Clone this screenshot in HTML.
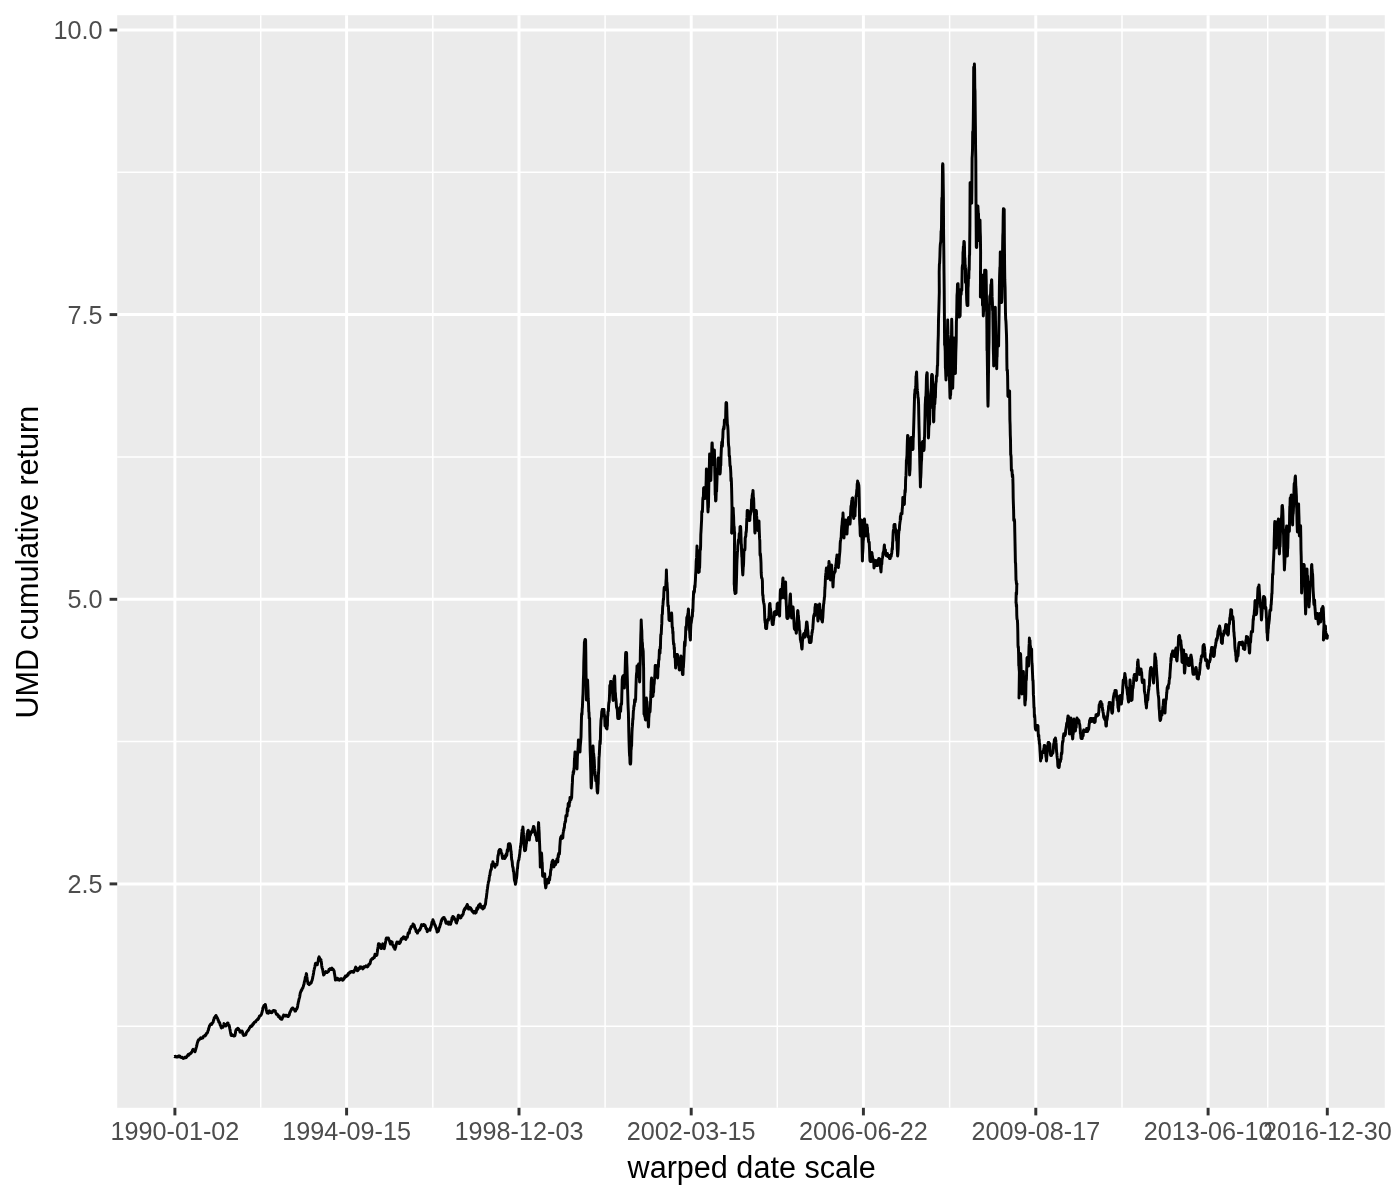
<!DOCTYPE html>
<html><head><meta charset="utf-8"><title>UMD cumulative return</title>
<style>
html,body{margin:0;padding:0;background:#fff;}
body{width:1400px;height:1200px;overflow:hidden;}
svg{display:block;filter:grayscale(1);}
text{font-family:"Liberation Sans",sans-serif;font-kerning:none;}
.tk{font-size:25.2px;fill:#4d4d4d;}
.tt{font-size:30.6px;fill:#000;}
</style></head><body>
<svg width="1400" height="1200" viewBox="0 0 1400 1200">
<rect x="0" y="0" width="1400" height="1200" fill="#ffffff"/>
<rect x="117.2" y="15.2" width="1267.6" height="1092.6" fill="#ebebeb"/>
<g stroke="#ffffff" stroke-width="1.48" fill="none">
<line x1="117.2" x2="1384.8" y1="172.3" y2="172.3"/>
<line x1="117.2" x2="1384.8" y1="457.0" y2="457.0"/>
<line x1="117.2" x2="1384.8" y1="741.6" y2="741.6"/>
<line x1="117.2" x2="1384.8" y1="1026.2" y2="1026.2"/>
<line x1="260.7" x2="260.7" y1="15.2" y2="1107.8"/>
<line x1="432.8" x2="432.8" y1="15.2" y2="1107.8"/>
<line x1="605.1" x2="605.1" y1="15.2" y2="1107.8"/>
<line x1="777.3" x2="777.3" y1="15.2" y2="1107.8"/>
<line x1="949.6" x2="949.6" y1="15.2" y2="1107.8"/>
<line x1="1122.0" x2="1122.0" y1="15.2" y2="1107.8"/>
<line x1="1267.7" x2="1267.7" y1="15.2" y2="1107.8"/>
</g>
<g stroke="#ffffff" stroke-width="2.96" fill="none">
<line x1="117.2" x2="1384.8" y1="30.0" y2="30.0"/>
<line x1="117.2" x2="1384.8" y1="314.6" y2="314.6"/>
<line x1="117.2" x2="1384.8" y1="599.3" y2="599.3"/>
<line x1="117.2" x2="1384.8" y1="883.9" y2="883.9"/>
<line x1="174.9" x2="174.9" y1="15.2" y2="1107.8"/>
<line x1="346.6" x2="346.6" y1="15.2" y2="1107.8"/>
<line x1="519.0" x2="519.0" y1="15.2" y2="1107.8"/>
<line x1="691.2" x2="691.2" y1="15.2" y2="1107.8"/>
<line x1="863.4" x2="863.4" y1="15.2" y2="1107.8"/>
<line x1="1035.8" x2="1035.8" y1="15.2" y2="1107.8"/>
<line x1="1208.1" x2="1208.1" y1="15.2" y2="1107.8"/>
<line x1="1327.3" x2="1327.3" y1="15.2" y2="1107.8"/>
</g>
<polyline fill="none" stroke="#000000" stroke-width="2.96" stroke-linejoin="round" stroke-linecap="butt" points="174.3,1056.6 174.5,1056.5 174.7,1056.7 174.9,1056.6 175.1,1056.6 175.3,1056.3 175.5,1056.3 175.7,1056.6 175.9,1056.7 176.1,1057.0 176.3,1057.0 176.5,1057.1 176.7,1057.1 176.9,1056.8 177.2,1057.0 177.4,1057.1 177.6,1057.1 177.8,1056.8 178.0,1056.4 178.2,1056.2 178.4,1056.1 178.6,1056.1 178.8,1056.1 179.0,1056.3 179.2,1056.1 179.4,1056.2 179.6,1056.3 179.8,1056.1 180.0,1056.6 180.2,1056.8 180.4,1057.3 180.6,1057.2 180.8,1057.1 181.0,1057.1 181.2,1057.2 181.4,1057.5 181.6,1057.6 181.8,1057.6 182.0,1057.5 182.2,1057.4 182.3,1057.8 182.5,1057.7 182.7,1057.9 182.9,1058.1 183.1,1057.8 183.3,1057.9 183.5,1058.4 183.7,1057.9 183.9,1057.9 184.1,1058.0 184.3,1057.9 184.5,1057.9 184.7,1057.8 184.9,1057.2 185.1,1057.3 185.3,1057.4 185.5,1057.5 185.7,1057.7 185.9,1057.7 186.1,1057.6 186.3,1057.1 186.5,1057.2 186.7,1056.9 186.9,1056.6 187.1,1056.1 187.3,1055.7 187.5,1055.5 187.7,1055.7 187.9,1055.0 188.1,1054.6 188.3,1054.7 188.5,1055.1 188.7,1055.3 188.9,1054.8 189.2,1054.1 189.4,1054.2 189.6,1054.0 189.8,1053.7 190.0,1054.0 190.2,1053.9 190.4,1053.6 190.6,1053.3 190.8,1053.0 191.0,1053.1 191.2,1052.9 191.4,1052.7 191.5,1052.5 191.7,1051.7 191.9,1051.6 192.1,1051.5 192.3,1051.3 192.5,1050.4 192.7,1049.8 192.9,1049.7 193.1,1049.4 193.3,1049.5 193.5,1050.0 193.7,1049.8 193.9,1050.4 194.2,1050.7 194.4,1050.9 194.6,1051.1 194.8,1051.5 195.0,1051.7 195.2,1051.3 195.4,1050.4 195.6,1049.6 195.8,1049.1 196.0,1048.4 196.2,1047.5 196.4,1047.0 196.5,1046.7 196.7,1045.9 196.9,1044.8 197.1,1044.0 197.3,1043.2 197.5,1042.4 197.7,1042.1 197.9,1041.1 198.1,1041.2 198.3,1040.5 198.5,1039.9 198.7,1039.8 198.9,1039.8 199.1,1039.8 199.3,1039.6 199.5,1039.3 199.7,1039.1 199.9,1038.9 200.1,1038.6 200.3,1038.3 200.5,1038.2 200.7,1037.9 200.9,1038.0 201.1,1038.0 201.3,1038.4 201.5,1038.4 201.7,1038.1 201.9,1037.8 202.1,1037.7 202.3,1037.8 202.5,1037.6 202.7,1037.5 202.9,1037.9 203.1,1037.0 203.3,1036.4 203.5,1036.4 203.7,1036.3 203.9,1036.2 204.1,1036.0 204.3,1036.0 204.5,1035.9 204.7,1035.5 204.9,1036.1 205.1,1036.1 205.3,1035.7 205.5,1035.5 205.7,1035.2 205.9,1035.0 206.1,1034.0 206.3,1033.6 206.5,1033.8 206.7,1033.2 206.9,1033.0 207.1,1033.1 207.3,1032.9 207.5,1032.8 207.7,1031.8 207.9,1031.1 208.1,1030.5 208.3,1030.2 208.5,1030.0 208.6,1028.6 208.8,1028.5 209.0,1027.5 209.2,1027.2 209.4,1026.1 209.6,1025.7 209.8,1025.6 210.0,1025.0 210.2,1024.7 210.4,1024.7 210.6,1024.4 210.8,1024.0 211.1,1024.2 211.3,1024.2 211.5,1023.8 211.7,1024.4 211.9,1023.6 212.1,1023.6 212.3,1023.1 212.5,1022.8 212.7,1022.7 212.9,1022.4 213.1,1022.2 213.3,1021.3 213.5,1020.4 213.7,1020.2 213.9,1019.5 214.1,1018.7 214.2,1017.8 214.4,1017.9 214.6,1017.8 214.8,1017.9 215.0,1017.2 215.2,1016.8 215.4,1016.0 215.6,1015.9 215.8,1016.1 216.0,1015.4 216.2,1016.3 216.4,1017.0 216.6,1017.2 216.8,1016.8 217.0,1017.7 217.2,1018.0 217.4,1018.1 217.6,1018.5 217.8,1019.0 218.0,1019.9 218.2,1019.8 218.4,1020.5 218.6,1021.4 218.8,1022.1 219.0,1022.2 219.3,1022.1 219.5,1022.7 219.7,1022.9 219.9,1023.6 220.1,1024.8 220.3,1025.3 220.5,1025.2 220.6,1025.7 220.8,1025.7 221.0,1026.7 221.2,1027.5 221.4,1027.9 221.6,1027.5 221.8,1027.4 222.0,1027.1 222.2,1027.2 222.4,1026.8 222.6,1026.8 222.8,1026.9 223.0,1027.1 223.2,1026.5 223.4,1026.4 223.6,1025.4 223.8,1024.6 224.0,1023.6 224.2,1024.2 224.4,1024.1 224.6,1024.3 224.8,1024.5 225.1,1024.7 225.3,1024.8 225.5,1025.1 225.7,1026.0 225.9,1025.7 226.1,1025.6 226.3,1025.7 226.5,1025.3 226.7,1024.6 226.9,1024.1 227.1,1024.2 227.3,1023.3 227.5,1022.9 227.7,1022.9 227.9,1022.9 228.1,1023.4 228.3,1024.2 228.5,1024.8 228.7,1024.9 228.9,1024.9 229.1,1025.2 229.3,1026.0 229.5,1027.1 229.7,1028.1 229.9,1029.1 230.1,1029.9 230.3,1031.2 230.5,1032.1 230.7,1033.5 230.9,1034.0 231.1,1035.4 231.3,1035.4 231.5,1035.0 231.7,1035.4 231.9,1035.5 232.1,1035.0 232.3,1034.9 232.5,1035.2 232.7,1035.3 232.9,1035.7 233.1,1035.8 233.3,1035.8 233.5,1035.8 233.7,1036.0 233.9,1036.1 234.2,1036.1 234.4,1035.3 234.6,1035.4 234.8,1035.7 235.0,1035.4 235.2,1034.0 235.4,1033.4 235.6,1031.6 235.8,1030.5 236.0,1030.0 236.2,1029.4 236.4,1029.4 236.6,1029.7 236.8,1029.4 236.9,1029.3 237.1,1029.4 237.3,1028.8 237.5,1028.5 237.7,1028.3 237.9,1028.3 238.1,1028.6 238.3,1028.9 238.5,1028.9 238.7,1029.1 238.9,1029.7 239.2,1030.1 239.4,1030.1 239.6,1030.2 239.8,1031.4 240.0,1032.1 240.2,1032.2 240.4,1031.2 240.6,1031.3 240.8,1031.3 241.1,1031.7 241.3,1031.8 241.5,1031.6 241.7,1031.7 241.9,1030.9 242.1,1031.1 242.3,1031.7 242.5,1032.0 242.7,1032.9 242.8,1034.0 243.0,1034.0 243.2,1034.3 243.4,1034.9 243.6,1035.4 243.8,1035.1 244.0,1034.6 244.2,1035.1 244.4,1035.3 244.6,1034.7 244.8,1034.5 245.0,1034.5 245.2,1034.6 245.4,1035.0 245.6,1034.9 245.8,1034.4 246.0,1034.1 246.2,1033.1 246.4,1032.5 246.7,1032.2 246.9,1032.1 247.1,1031.5 247.3,1031.2 247.5,1031.0 247.7,1030.8 247.9,1030.7 248.1,1030.5 248.3,1030.1 248.5,1030.0 248.7,1029.7 248.9,1029.2 249.1,1028.7 249.3,1028.4 249.5,1028.0 249.7,1027.8 249.9,1027.5 250.1,1027.2 250.3,1026.9 250.5,1026.2 250.7,1026.0 250.9,1026.3 251.1,1026.5 251.3,1026.4 251.5,1026.5 251.7,1026.2 251.9,1025.5 252.1,1025.5 252.2,1025.2 252.4,1025.4 252.6,1025.0 252.8,1024.1 253.0,1023.7 253.2,1024.2 253.4,1024.1 253.6,1023.6 253.8,1023.0 254.0,1022.8 254.2,1022.6 254.4,1022.3 254.6,1022.4 254.8,1022.3 255.0,1021.9 255.2,1021.8 255.4,1022.0 255.5,1022.0 255.7,1022.0 255.9,1021.2 256.1,1020.8 256.3,1020.7 256.5,1020.2 256.7,1020.2 256.9,1020.0 257.1,1020.0 257.3,1019.4 257.5,1019.8 257.7,1019.7 257.9,1019.1 258.1,1018.6 258.3,1019.0 258.5,1018.3 258.7,1018.1 258.9,1017.9 259.1,1017.4 259.3,1016.4 259.5,1016.1 259.7,1015.9 259.9,1016.0 260.1,1015.9 260.4,1015.5 260.6,1015.5 260.8,1015.4 261.0,1015.1 261.2,1014.7 261.4,1014.3 261.6,1014.0 261.8,1013.0 262.0,1012.2 262.2,1011.7 262.4,1010.6 262.6,1009.8 262.8,1008.5 263.0,1007.7 263.2,1007.3 263.4,1007.0 263.6,1006.4 263.8,1006.1 264.0,1005.4 264.2,1005.9 264.4,1005.9 264.6,1006.2 264.8,1005.6 265.0,1005.4 265.2,1004.5 265.4,1004.6 265.6,1006.2 265.8,1006.7 266.0,1007.9 266.2,1009.3 266.3,1009.9 266.5,1010.4 266.7,1011.2 266.9,1012.2 267.1,1012.9 267.3,1012.7 267.5,1012.6 267.7,1012.6 267.9,1012.7 268.1,1013.0 268.3,1013.3 268.5,1012.6 268.7,1012.2 268.9,1011.6 269.1,1010.9 269.3,1010.7 269.5,1011.1 269.7,1011.7 269.9,1011.6 270.1,1011.5 270.3,1011.9 270.5,1012.3 270.7,1012.6 270.9,1012.6 271.1,1012.3 271.3,1012.6 271.5,1012.8 271.7,1012.8 271.9,1012.6 272.1,1012.5 272.3,1011.5 272.5,1011.2 272.7,1011.2 272.9,1010.7 273.1,1010.8 273.3,1011.0 273.5,1010.5 273.7,1010.5 273.9,1010.4 274.1,1010.6 274.4,1010.9 274.6,1011.0 274.8,1010.7 275.0,1010.7 275.2,1010.8 275.4,1011.1 275.6,1012.1 275.8,1012.7 276.0,1013.0 276.2,1013.7 276.4,1014.3 276.6,1014.0 276.8,1014.1 277.0,1014.0 277.2,1014.2 277.4,1014.5 277.6,1014.5 277.8,1015.5 277.9,1015.5 278.1,1016.0 278.3,1016.2 278.5,1016.7 278.7,1016.0 278.9,1015.8 279.1,1016.1 279.3,1016.4 279.5,1017.3 279.7,1017.4 279.9,1017.9 280.1,1018.2 280.3,1018.6 280.5,1018.8 280.7,1018.8 280.9,1019.0 281.1,1018.7 281.3,1019.1 281.5,1018.8 281.7,1018.9 281.9,1019.2 282.1,1018.6 282.3,1018.1 282.5,1018.0 282.6,1017.5 282.8,1016.7 283.0,1016.3 283.2,1016.0 283.4,1015.8 283.6,1015.0 283.8,1015.6 284.0,1015.9 284.2,1015.9 284.4,1015.9 284.6,1015.8 284.9,1015.9 285.1,1015.8 285.3,1015.9 285.5,1015.7 285.7,1015.4 285.9,1015.5 286.1,1015.9 286.3,1015.8 286.5,1015.4 286.7,1015.5 286.9,1015.4 287.1,1015.4 287.2,1015.8 287.4,1016.1 287.6,1015.8 287.8,1016.5 288.0,1016.4 288.2,1016.5 288.4,1016.1 288.6,1016.0 288.8,1014.9 289.0,1015.1 289.2,1015.2 289.4,1014.3 289.6,1013.3 289.9,1012.3 290.1,1012.3 290.3,1011.7 290.5,1011.2 290.7,1010.7 290.9,1010.5 291.1,1009.9 291.3,1009.7 291.5,1009.0 291.6,1008.8 291.8,1008.8 292.0,1008.8 292.2,1008.5 292.4,1008.0 292.6,1007.9 292.8,1007.9 293.0,1008.7 293.2,1009.1 293.4,1009.3 293.6,1009.3 293.8,1009.2 294.0,1009.0 294.2,1009.1 294.4,1009.3 294.6,1009.7 294.8,1010.1 295.0,1011.1 295.2,1010.5 295.4,1010.3 295.6,1011.0 295.8,1010.0 296.1,1009.6 296.3,1009.3 296.5,1009.1 296.7,1009.0 296.9,1008.6 297.1,1008.1 297.3,1007.4 297.5,1007.1 297.7,1005.7 297.8,1004.6 298.0,1004.0 298.2,1002.9 298.4,1001.8 298.6,1001.4 298.8,1000.1 299.0,999.3 299.2,998.5 299.5,997.6 299.7,996.7 299.9,995.6 300.1,994.0 300.3,992.9 300.5,992.6 300.7,991.8 300.9,991.3 301.1,991.1 301.3,990.2 301.5,990.0 301.7,990.3 301.9,989.5 302.0,989.1 302.2,988.5 302.4,988.6 302.6,988.3 302.8,988.1 303.0,987.3 303.2,986.8 303.4,986.3 303.6,985.0 303.8,984.8 304.0,984.3 304.2,982.6 304.4,982.0 304.6,981.1 304.8,980.4 305.0,979.7 305.2,978.1 305.4,977.1 305.6,977.3 305.8,976.6 306.0,975.7 306.2,974.6 306.4,973.6 306.6,974.7 306.8,976.4 307.0,977.6 307.1,978.6 307.3,980.6 307.5,981.3 307.7,981.9 307.9,983.1 308.1,983.7 308.3,983.7 308.5,983.5 308.7,984.0 308.9,984.5 309.1,984.3 309.3,984.6 309.5,984.0 309.7,983.9 309.9,983.6 310.1,983.2 310.4,982.7 310.6,982.9 310.8,983.2 311.0,982.7 311.2,982.8 311.4,982.1 311.6,981.3 311.8,980.9 312.0,980.8 312.2,979.8 312.4,979.0 312.6,978.2 312.8,976.8 313.0,976.0 313.2,974.9 313.4,974.2 313.6,972.9 313.8,971.1 314.0,970.3 314.2,969.5 314.4,968.4 314.6,968.0 314.8,967.0 315.0,965.8 315.2,965.2 315.4,963.6 315.6,963.3 315.8,963.3 316.0,963.8 316.2,963.7 316.3,963.9 316.5,963.6 316.7,963.8 316.9,964.6 317.1,964.3 317.3,964.7 317.5,963.5 317.7,962.7 317.9,962.0 318.1,961.7 318.3,960.2 318.5,958.4 318.7,957.8 318.9,957.4 319.1,956.9 319.3,957.4 319.5,957.7 319.7,958.1 319.9,958.8 320.1,959.3 320.3,960.3 320.5,959.9 320.7,960.0 320.9,959.5 321.1,961.0 321.3,961.9 321.5,963.5 321.7,965.7 321.9,966.9 322.1,967.9 322.3,968.6 322.5,969.1 322.7,969.7 322.9,970.9 323.0,971.9 323.2,972.8 323.4,973.7 323.6,975.0 323.8,974.8 324.0,974.4 324.2,974.3 324.4,973.9 324.6,972.9 324.9,973.2 325.1,973.0 325.3,972.2 325.5,972.3 325.7,972.1 325.9,971.6 326.1,972.2 326.3,972.3 326.5,972.6 326.7,972.6 326.9,972.6 327.1,972.1 327.3,972.3 327.5,972.1 327.7,971.7 327.9,971.7 328.1,971.5 328.3,971.6 328.5,971.1 328.7,970.9 328.9,969.6 329.1,969.2 329.3,969.3 329.5,969.6 329.7,969.2 329.9,968.8 330.1,969.3 330.3,968.8 330.5,968.9 330.7,969.4 330.9,969.1 331.1,969.4 331.3,968.8 331.5,968.6 331.7,968.3 331.9,968.1 332.1,968.3 332.3,969.6 332.5,969.5 332.7,969.3 332.9,969.7 333.2,969.4 333.4,969.8 333.6,970.2 333.8,970.3 334.0,970.7 334.2,971.5 334.4,973.4 334.6,974.2 334.8,975.4 335.0,976.7 335.2,978.1 335.4,980.0 335.6,979.7 335.8,979.2 336.0,979.2 336.2,979.6 336.4,979.3 336.6,979.1 336.9,979.4 337.1,979.2 337.3,978.3 337.5,979.1 337.7,979.8 337.9,978.6 338.1,978.7 338.3,979.0 338.5,979.6 338.7,980.0 338.9,980.0 339.0,979.6 339.2,979.8 339.4,980.2 339.6,980.0 339.8,979.6 340.0,979.7 340.2,978.9 340.4,978.9 340.6,978.8 340.8,979.2 341.0,979.0 341.2,978.8 341.4,978.8 341.6,978.8 341.7,978.8 341.9,978.8 342.1,979.1 342.3,979.7 342.5,980.2 342.7,980.2 342.9,980.2 343.1,979.3 343.3,979.8 343.5,979.4 343.7,979.1 343.9,979.1 344.1,978.3 344.3,978.3 344.5,978.0 344.8,976.9 345.0,976.8 345.2,977.2 345.4,976.1 345.6,976.2 345.8,976.1 346.0,976.1 346.2,976.0 346.4,976.4 346.6,976.0 346.8,976.1 347.0,975.6 347.2,975.7 347.4,975.0 347.6,974.6 347.8,975.2 348.0,975.1 348.2,974.7 348.4,973.9 348.5,973.2 348.7,973.0 348.9,973.1 349.1,973.0 349.3,973.0 349.5,972.7 349.7,973.0 349.9,972.5 350.1,972.0 350.3,972.1 350.5,972.1 350.7,972.0 350.9,971.7 351.1,971.6 351.3,971.9 351.5,972.0 351.7,971.6 351.9,971.6 352.0,971.7 352.2,971.6 352.4,971.6 352.6,971.6 352.8,971.6 353.0,971.6 353.2,972.2 353.4,971.9 353.6,972.1 353.8,971.1 354.0,971.6 354.2,970.8 354.4,970.7 354.6,969.8 354.9,969.6 355.1,970.1 355.3,968.3 355.5,967.5 355.7,967.1 355.9,967.5 356.1,967.6 356.3,969.1 356.5,969.6 356.8,969.2 357.0,970.1 357.2,969.7 357.4,970.7 357.6,970.2 357.8,970.1 358.0,970.4 358.2,970.3 358.4,969.4 358.6,968.4 358.8,968.7 359.0,968.8 359.1,968.2 359.3,968.4 359.5,968.4 359.7,968.5 359.9,967.2 360.1,966.9 360.3,967.1 360.5,967.2 360.7,967.4 360.9,966.9 361.1,966.9 361.3,966.9 361.5,968.1 361.7,967.8 361.9,967.7 362.1,967.8 362.3,968.4 362.5,968.2 362.7,968.9 362.9,968.6 363.1,968.6 363.3,968.2 363.5,968.1 363.7,967.6 363.9,966.7 364.1,967.1 364.3,967.1 364.5,966.7 364.7,966.7 364.9,967.0 365.1,966.4 365.3,966.2 365.5,966.3 365.7,966.4 365.9,966.4 366.1,965.9 366.3,966.3 366.5,966.6 366.7,966.8 366.9,966.8 367.1,966.9 367.3,966.9 367.5,966.7 367.7,966.5 367.9,966.4 368.1,965.9 368.3,965.2 368.5,965.3 368.7,964.5 368.9,964.6 369.0,963.9 369.2,963.9 369.4,964.4 369.6,964.3 369.8,963.8 370.0,963.6 370.2,963.2 370.4,961.9 370.6,961.1 370.8,960.7 371.0,960.0 371.1,959.6 371.3,959.5 371.5,959.4 371.7,959.4 371.9,959.2 372.1,958.6 372.3,958.7 372.5,958.8 372.7,958.8 372.9,958.8 373.0,958.1 373.2,958.1 373.4,958.2 373.6,957.9 373.8,957.5 374.0,957.4 374.2,957.0 374.4,957.7 374.6,956.0 374.8,955.6 375.0,954.3 375.2,954.8 375.4,955.5 375.6,955.0 375.8,955.1 376.1,955.4 376.3,955.3 376.5,955.5 376.7,954.5 376.9,955.0 377.1,953.8 377.3,952.4 377.5,950.7 377.7,949.6 377.9,948.0 378.1,946.7 378.3,945.0 378.5,943.8 378.7,943.8 378.9,944.0 379.1,944.4 379.3,943.9 379.5,943.9 379.7,944.3 379.9,944.8 380.1,945.8 380.3,947.3 380.5,947.2 380.7,946.5 380.9,947.4 381.1,948.6 381.3,948.6 381.5,948.6 381.7,947.8 381.9,946.9 382.1,946.9 382.3,945.9 382.5,944.5 382.7,943.8 382.9,944.3 383.1,945.8 383.3,946.0 383.5,946.1 383.7,946.8 383.9,946.9 384.1,948.1 384.3,948.6 384.5,946.9 384.7,946.5 384.9,945.1 385.1,944.1 385.4,943.0 385.6,941.7 385.8,940.8 386.0,939.3 386.2,938.6 386.4,938.1 386.6,938.1 386.8,938.1 387.0,938.1 387.2,938.1 387.4,938.5 387.6,938.9 387.8,938.7 388.0,938.7 388.2,938.1 388.4,938.1 388.6,938.6 388.8,939.3 389.0,939.7 389.2,940.0 389.5,941.0 389.7,941.4 389.9,942.3 390.1,943.0 390.3,943.6 390.5,944.0 390.7,943.3 390.9,942.8 391.1,942.1 391.3,941.6 391.5,941.8 391.7,942.4 391.9,942.1 392.1,942.1 392.3,943.2 392.5,944.1 392.7,945.2 392.9,945.0 393.1,945.1 393.3,945.8 393.6,947.0 393.8,947.5 394.0,947.5 394.2,947.8 394.4,947.9 394.6,947.9 394.8,949.2 395.0,949.3 395.2,948.1 395.4,948.0 395.6,947.5 395.8,946.4 396.1,944.9 396.3,943.9 396.5,943.5 396.7,942.6 396.9,942.1 397.1,942.2 397.3,942.4 397.5,942.3 397.7,942.6 397.9,943.3 398.1,942.5 398.3,942.4 398.5,942.6 398.7,942.3 398.9,942.1 399.1,942.5 399.3,943.6 399.5,943.5 399.7,943.3 399.9,942.1 400.1,942.7 400.3,942.4 400.5,941.9 400.7,940.9 400.9,940.5 401.1,939.5 401.3,939.1 401.5,939.0 401.7,938.6 401.9,938.8 402.1,938.4 402.3,939.1 402.5,938.9 402.7,938.0 402.9,938.0 403.1,937.6 403.3,937.1 403.5,936.9 403.7,937.2 403.9,936.9 404.1,936.9 404.3,937.4 404.5,938.1 404.7,938.2 404.9,938.6 405.1,938.8 405.4,939.0 405.6,939.4 405.8,939.4 406.0,938.9 406.2,938.5 406.4,937.6 406.6,937.6 406.8,936.9 407.1,936.6 407.3,937.4 407.5,936.5 407.7,935.5 407.9,934.3 408.1,933.4 408.3,932.7 408.5,933.3 408.7,933.4 408.9,932.8 409.1,932.6 409.3,933.1 409.5,931.6 409.7,930.3 409.9,929.4 410.1,929.1 410.4,929.1 410.6,928.7 410.8,927.7 411.0,926.7 411.2,926.7 411.4,926.4 411.6,926.2 411.8,926.4 412.0,926.5 412.2,926.5 412.4,926.2 412.6,925.4 412.8,925.0 413.0,924.1 413.2,924.8 413.4,925.0 413.6,924.3 413.8,925.3 414.0,926.0 414.2,925.1 414.4,926.4 414.6,927.1 414.9,928.5 415.1,928.0 415.3,928.5 415.5,929.0 415.7,929.3 415.9,930.1 416.1,931.5 416.3,931.4 416.5,931.4 416.8,931.3 417.0,931.8 417.2,932.2 417.4,933.1 417.6,932.8 417.8,932.4 418.0,931.6 418.2,930.9 418.4,931.0 418.6,931.0 418.8,930.6 419.0,930.0 419.2,930.5 419.4,929.7 419.6,929.7 419.8,929.9 420.0,929.3 420.2,929.2 420.4,928.0 420.6,928.0 420.9,927.6 421.1,926.1 421.3,925.9 421.5,924.8 421.7,925.0 421.9,924.7 422.1,924.8 422.3,925.1 422.5,925.0 422.6,925.3 422.8,925.1 423.0,925.5 423.2,925.5 423.4,925.5 423.6,924.6 423.8,925.4 424.0,925.5 424.2,924.6 424.4,924.8 424.6,925.1 424.9,925.9 425.1,925.4 425.3,926.4 425.5,926.4 425.7,927.9 425.9,928.1 426.1,928.7 426.3,928.7 426.5,928.3 426.7,929.2 426.9,930.0 427.1,931.1 427.3,931.6 427.5,931.2 427.7,930.3 427.9,929.9 428.1,929.8 428.3,929.8 428.6,929.8 428.8,929.8 429.0,929.8 429.2,929.8 429.4,929.8 429.6,929.8 429.8,929.8 430.0,930.3 430.2,929.3 430.4,927.8 430.6,928.0 430.8,927.4 431.0,927.4 431.2,925.8 431.4,925.0 431.6,924.4 431.8,923.0 432.0,922.0 432.1,921.9 432.3,921.9 432.5,922.2 432.7,921.1 432.9,919.7 433.1,920.4 433.3,921.3 433.5,921.8 433.7,921.3 433.8,922.2 434.0,923.0 434.2,923.7 434.4,923.8 434.6,924.3 434.8,925.3 435.0,925.6 435.2,925.1 435.4,925.9 435.6,926.8 435.9,927.4 436.1,928.5 436.3,928.7 436.5,929.3 436.7,929.7 436.9,930.6 437.1,932.1 437.3,931.2 437.5,931.6 437.7,931.7 437.9,931.4 438.1,930.9 438.3,931.2 438.6,930.3 438.8,929.5 439.0,928.1 439.2,927.6 439.4,927.6 439.6,927.1 439.8,926.6 440.0,925.7 440.2,925.3 440.4,924.0 440.6,924.1 440.8,923.4 441.0,922.3 441.2,921.4 441.4,920.4 441.6,920.4 441.8,920.6 442.0,919.3 442.2,919.4 442.4,919.4 442.6,918.6 442.8,918.0 443.0,917.9 443.2,917.8 443.4,918.3 443.6,918.4 443.8,917.5 444.0,917.9 444.2,917.6 444.4,918.8 444.6,918.8 444.9,919.0 445.1,919.2 445.3,919.5 445.5,920.9 445.7,922.1 445.9,922.8 446.1,923.3 446.3,922.8 446.5,922.8 446.7,922.8 446.9,922.6 447.1,923.2 447.2,923.2 447.4,923.1 447.6,922.8 447.8,922.0 448.0,922.6 448.2,923.8 448.4,924.2 448.6,924.0 448.8,922.2 449.0,922.1 449.2,922.6 449.4,922.6 449.6,922.9 449.8,923.6 450.0,924.1 450.2,923.6 450.4,924.0 450.6,924.3 450.8,923.2 451.0,922.7 451.2,921.7 451.4,921.4 451.6,921.1 451.8,919.8 452.0,918.0 452.2,918.1 452.4,917.7 452.6,917.9 452.8,916.5 453.0,916.5 453.2,917.1 453.4,917.7 453.6,916.9 453.8,917.3 454.0,917.4 454.2,918.2 454.4,919.1 454.6,919.4 454.8,918.8 455.0,919.5 455.2,919.4 455.4,920.0 455.6,920.4 455.8,921.6 456.0,922.5 456.2,922.5 456.4,922.9 456.6,923.0 456.8,921.8 457.0,921.1 457.2,920.9 457.4,920.7 457.6,920.0 457.8,918.3 458.0,916.6 458.2,915.8 458.4,915.2 458.6,915.7 458.8,915.5 459.0,916.6 459.2,917.4 459.4,916.7 459.6,916.6 459.9,917.1 460.1,917.1 460.3,917.4 460.5,918.0 460.7,917.9 460.9,917.8 461.1,917.0 461.3,916.3 461.5,916.2 461.7,915.4 461.9,915.2 462.1,915.8 462.3,915.4 462.5,914.9 462.7,914.9 462.9,914.3 463.1,914.3 463.3,912.8 463.5,912.4 463.7,911.4 463.9,910.2 464.0,910.6 464.2,909.4 464.4,909.7 464.6,909.4 464.8,909.6 465.0,908.3 465.2,908.4 465.4,908.7 465.6,908.0 465.8,907.3 466.0,908.2 466.2,907.7 466.4,906.8 466.6,905.8 466.8,905.5 467.0,905.1 467.2,904.5 467.4,905.0 467.6,905.2 467.8,905.8 468.0,907.1 468.1,906.9 468.3,907.9 468.5,909.1 468.7,908.9 468.9,908.6 469.1,908.3 469.3,907.5 469.5,908.1 469.7,907.4 469.9,908.0 470.1,909.1 470.3,908.6 470.5,908.7 470.7,907.9 470.9,909.0 471.1,908.9 471.3,909.1 471.5,909.6 471.7,910.5 471.9,910.7 472.1,911.2 472.3,911.2 472.5,911.7 472.7,911.2 472.9,911.7 473.1,911.2 473.3,911.2 473.5,912.4 473.7,912.9 473.9,912.2 474.1,912.8 474.4,912.3 474.6,911.3 474.8,911.2 475.0,912.1 475.2,912.8 475.4,913.1 475.6,912.2 475.8,911.1 476.0,912.2 476.2,912.3 476.4,911.3 476.6,909.4 476.9,908.1 477.1,910.1 477.3,909.0 477.5,908.8 477.7,908.9 477.9,908.6 478.1,908.2 478.3,906.8 478.5,905.6 478.7,906.9 478.9,906.0 479.1,906.6 479.3,904.9 479.5,904.5 479.7,904.5 479.9,905.2 480.1,904.0 480.3,904.3 480.5,905.5 480.7,905.7 480.9,906.9 481.1,907.0 481.3,907.1 481.5,907.9 481.6,906.4 481.8,907.1 482.0,907.1 482.2,906.6 482.4,907.1 482.6,908.6 482.8,908.0 483.0,908.9 483.2,907.6 483.5,906.6 483.7,907.4 483.9,907.5 484.1,908.0 484.3,907.1 484.5,906.8 484.7,906.0 484.9,905.5 485.1,904.5 485.4,904.6 485.6,903.0 485.8,901.1 486.0,898.8 486.2,898.8 486.4,897.1 486.6,895.3 486.8,893.5 487.0,892.2 487.2,890.1 487.4,889.0 487.6,887.5 487.8,886.1 488.0,884.3 488.2,883.5 488.4,882.2 488.6,881.4 488.8,881.0 489.0,880.7 489.2,877.9 489.4,876.7 489.6,875.3 489.9,875.4 490.1,873.2 490.3,871.9 490.5,871.0 490.7,870.0 490.9,870.3 491.1,869.1 491.3,869.3 491.5,867.1 491.7,864.6 491.9,865.1 492.1,864.8 492.3,864.5 492.5,863.9 492.7,863.6 492.9,861.7 493.1,863.3 493.3,863.3 493.5,865.0 493.7,865.7 493.9,864.3 494.0,863.6 494.2,865.4 494.4,865.8 494.6,866.1 494.8,866.9 495.0,867.1 495.2,865.5 495.4,864.5 495.6,864.5 495.8,864.5 496.1,864.5 496.3,864.5 496.5,864.5 496.7,865.0 496.9,865.0 497.1,863.7 497.3,862.5 497.5,861.0 497.7,858.8 497.8,857.4 498.0,855.3 498.2,855.6 498.4,854.7 498.6,852.9 498.8,851.0 499.0,851.1 499.2,850.7 499.4,849.7 499.6,849.5 499.9,849.5 500.1,849.5 500.3,849.5 500.5,849.9 500.7,850.0 500.9,850.3 501.1,852.3 501.3,853.0 501.5,853.7 501.7,853.8 501.9,853.6 502.1,855.7 502.3,856.7 502.5,858.4 502.7,858.0 502.9,858.0 503.1,857.0 503.3,857.9 503.6,856.5 503.8,857.0 504.0,858.1 504.2,858.4 504.4,858.4 504.6,858.4 504.8,858.4 505.0,857.9 505.2,855.8 505.4,856.3 505.6,857.3 505.8,856.0 506.1,854.5 506.3,853.8 506.5,855.3 506.7,855.6 506.9,854.3 507.1,851.5 507.3,849.9 507.5,850.3 507.7,851.3 507.8,850.2 508.0,848.5 508.2,847.1 508.4,844.2 508.6,844.3 508.8,843.8 509.0,845.3 509.2,843.9 509.5,843.8 509.7,843.9 509.9,843.8 510.1,844.9 510.3,845.4 510.5,846.0 510.7,848.6 510.9,851.3 511.1,851.2 511.3,855.0 511.5,857.3 511.7,860.0 511.9,860.1 512.1,861.3 512.3,862.8 512.5,865.8 512.6,866.3 512.8,867.3 513.0,867.2 513.2,868.9 513.4,871.2 513.6,871.4 513.8,872.3 514.0,874.4 514.2,877.4 514.4,879.5 514.6,880.8 514.8,881.1 515.0,881.8 515.2,882.6 515.4,884.3 515.6,882.7 515.8,882.8 516.0,881.6 516.2,879.0 516.3,879.0 516.5,878.4 516.7,876.9 516.9,874.7 517.1,871.4 517.3,869.0 517.5,868.5 517.7,866.4 517.9,863.7 518.1,862.5 518.3,861.4 518.5,860.6 518.7,859.9 518.9,859.9 519.1,857.7 519.3,857.3 519.5,855.0 519.7,854.3 519.9,852.1 520.1,850.0 520.3,848.7 520.5,846.4 520.8,845.2 521.0,843.8 521.2,841.6 521.4,838.6 521.6,836.0 521.8,833.7 522.0,831.7 522.1,830.0 522.3,831.5 522.5,830.5 522.7,829.6 522.9,826.9 523.1,829.0 523.3,831.6 523.5,834.7 523.7,836.4 523.8,841.1 524.0,843.4 524.2,847.5 524.4,847.8 524.6,850.7 524.8,850.5 525.0,850.3 525.2,850.5 525.4,850.3 525.6,850.0 525.8,847.5 526.0,846.3 526.2,843.4 526.4,843.6 526.6,841.8 526.8,839.5 527.0,836.5 527.1,833.8 527.3,833.7 527.5,833.5 527.7,831.4 527.9,830.7 528.1,830.6 528.3,830.2 528.5,831.3 528.7,832.0 528.9,833.1 529.1,835.0 529.3,840.0 529.5,838.0 529.7,836.7 529.9,835.7 530.1,834.4 530.3,834.1 530.5,834.8 530.7,832.1 530.9,832.6 531.1,832.6 531.3,832.6 531.5,832.6 531.7,832.1 531.9,830.9 532.1,831.4 532.3,831.7 532.5,831.8 532.7,829.2 532.9,828.9 533.2,828.1 533.4,826.6 533.6,826.6 533.8,826.6 534.0,827.1 534.2,828.1 534.4,829.8 534.6,830.1 534.8,831.3 535.0,832.4 535.2,834.0 535.4,835.0 535.6,834.9 535.8,834.7 536.0,834.5 536.2,836.5 536.3,837.1 536.5,837.6 536.7,840.1 536.9,840.5 537.1,840.0 537.3,838.1 537.5,836.3 537.7,835.7 537.9,834.5 538.0,832.7 538.2,828.7 538.4,825.0 538.6,822.6 538.8,827.2 539.0,830.1 539.2,833.7 539.3,837.2 539.5,841.3 539.7,845.7 539.9,852.4 540.1,857.2 540.3,867.1 540.5,866.6 540.7,862.6 540.8,860.9 541.0,858.1 541.2,855.7 541.4,852.9 541.6,853.8 541.8,857.5 542.0,862.0 542.2,862.6 542.4,869.0 542.6,875.7 542.8,876.2 543.0,876.2 543.2,876.2 543.5,876.2 543.7,876.2 543.9,875.9 544.1,875.2 544.3,874.3 544.5,876.3 544.7,873.8 544.9,878.4 545.1,883.5 545.3,884.2 545.5,886.2 545.7,887.9 545.9,887.3 546.1,885.8 546.3,884.5 546.5,881.9 546.7,881.1 546.9,880.0 547.1,880.7 547.3,879.5 547.5,879.5 547.7,879.5 547.8,880.8 548.0,879.5 548.2,879.7 548.4,881.7 548.6,882.9 548.8,881.1 549.0,879.1 549.2,877.6 549.4,878.0 549.6,879.9 549.7,878.6 549.9,876.3 550.1,875.9 550.3,875.3 550.5,872.5 550.7,870.0 550.9,869.2 551.1,870.0 551.3,867.0 551.5,864.4 551.8,864.8 552.0,861.8 552.2,861.4 552.4,861.5 552.6,860.7 552.8,860.2 553.0,861.6 553.2,862.5 553.4,864.7 553.6,864.5 553.8,866.9 554.0,866.4 554.2,865.2 554.4,864.3 554.6,865.4 554.8,863.3 555.0,863.5 555.2,861.5 555.4,862.1 555.6,864.7 555.8,863.0 556.0,863.1 556.2,860.9 556.4,861.4 556.6,861.9 556.8,861.9 557.0,858.8 557.2,858.7 557.4,860.1 557.6,861.4 557.8,861.9 558.0,857.4 558.2,855.1 558.4,857.1 558.6,853.6 558.8,853.7 559.0,854.1 559.2,854.1 559.4,854.1 559.6,851.6 559.8,846.6 560.0,844.1 560.2,841.3 560.4,838.9 560.6,838.0 560.8,837.0 561.0,836.7 561.2,836.9 561.4,836.1 561.6,838.5 561.8,838.5 562.0,838.5 562.2,838.0 562.4,835.9 562.6,838.2 562.8,837.8 563.0,834.7 563.2,832.7 563.4,831.7 563.6,830.0 563.8,830.5 564.0,828.0 564.2,828.2 564.4,827.6 564.6,824.0 564.8,823.1 565.0,822.0 565.2,822.5 565.4,821.0 565.6,821.1 565.8,816.7 566.0,815.5 566.2,815.5 566.4,816.6 566.6,816.0 566.8,815.5 567.0,816.0 567.2,810.7 567.4,808.6 567.6,809.9 567.8,811.1 568.0,808.4 568.2,803.6 568.4,806.8 568.6,806.8 568.8,804.4 569.0,804.2 569.2,806.1 569.4,801.5 569.6,802.0 569.8,802.5 570.0,797.5 570.2,798.0 570.4,797.5 570.6,797.5 570.8,797.5 571.0,799.5 571.2,797.5 571.4,797.5 571.6,798.0 571.8,793.6 572.0,789.1 572.2,785.4 572.4,782.4 572.6,776.9 572.8,775.4 573.0,774.0 573.2,771.8 573.4,774.0 573.6,770.8 573.8,772.0 574.0,768.2 574.2,767.8 574.4,760.3 574.6,758.5 574.8,755.7 575.0,752.0 575.2,753.7 575.4,756.0 575.6,757.4 575.8,754.8 576.0,756.5 576.2,758.3 576.4,760.2 576.6,760.6 576.8,763.6 577.0,769.0 577.2,762.9 577.4,756.1 577.6,754.3 577.8,751.6 578.0,748.6 578.2,746.3 578.4,740.0 578.6,740.5 578.8,744.5 579.0,743.8 579.2,744.4 579.4,746.3 579.6,748.3 579.8,748.4 580.0,752.0 580.2,746.8 580.4,744.1 580.6,742.5 580.8,739.7 581.0,737.0 581.2,729.0 581.4,720.5 581.6,714.0 581.8,713.0 582.0,714.5 582.2,708.8 582.4,707.2 582.6,702.1 582.8,697.4 583.0,694.0 583.2,687.4 583.4,679.3 583.6,674.4 583.8,662.3 584.0,656.4 584.2,650.6 584.4,642.0 584.6,642.5 584.8,640.3 585.0,639.5 585.2,639.5 585.4,639.5 585.6,640.0 585.8,652.0 586.0,671.1 586.2,685.4 586.4,700.0 586.6,698.8 586.8,692.9 587.0,692.2 587.2,689.9 587.4,681.6 587.6,680.0 587.8,685.2 588.0,690.1 588.2,698.5 588.4,700.7 588.6,705.8 588.8,711.6 589.0,712.3 589.2,718.5 589.4,718.5 589.6,718.0 589.8,732.3 590.0,742.0 590.2,751.1 590.4,756.2 590.6,765.8 590.8,772.3 591.0,782.6 591.2,788.0 591.4,785.8 591.6,781.8 591.8,778.6 592.0,775.1 592.2,772.1 592.4,765.2 592.6,755.1 592.8,751.8 593.0,746.0 593.2,749.0 593.4,754.4 593.6,753.3 593.8,755.4 594.0,758.0 594.2,759.4 594.4,764.5 594.6,768.4 594.8,770.4 595.0,772.0 595.2,775.6 595.4,775.4 595.6,778.4 595.8,781.0 596.0,777.7 596.2,776.4 596.4,777.9 596.6,780.3 596.8,783.8 597.0,787.3 597.2,791.5 597.4,792.0 597.6,793.0 597.8,790.6 598.0,785.1 598.2,783.5 598.4,774.9 598.6,772.2 598.8,767.3 599.0,757.8 599.2,755.9 599.4,752.4 599.6,748.0 599.8,743.5 600.0,740.8 600.2,743.8 600.4,740.0 600.6,728.7 600.8,724.8 601.0,720.0 601.2,719.1 601.4,717.5 601.6,714.3 601.8,711.3 602.0,714.0 602.2,709.5 602.4,714.6 602.6,712.5 602.8,709.5 603.0,710.6 603.2,711.8 603.4,709.5 603.6,710.0 603.8,709.5 604.0,709.5 604.2,714.2 604.4,716.5 604.6,715.7 604.8,720.2 605.0,726.0 605.2,725.9 605.4,725.5 605.6,725.5 605.8,725.5 606.0,725.5 606.2,728.1 606.4,727.2 606.6,725.8 606.8,725.6 607.0,729.0 607.2,724.1 607.4,726.0 607.6,715.7 607.8,716.0 608.0,711.9 608.2,711.3 608.4,711.3 608.6,705.7 608.8,703.3 609.0,702.0 609.2,702.3 609.4,697.8 609.6,693.1 609.8,685.5 610.0,692.0 610.2,689.8 610.4,687.5 610.6,681.5 610.8,682.6 611.0,681.5 611.2,682.4 611.4,683.5 611.6,682.0 611.8,688.1 612.0,688.3 612.2,691.1 612.4,693.1 612.6,692.8 612.8,696.7 613.0,700.0 613.2,700.5 613.4,690.4 613.6,686.5 613.8,681.8 614.0,678.6 614.2,678.2 614.4,677.7 614.6,676.0 614.8,679.9 615.0,686.8 615.2,693.3 615.4,692.8 615.6,697.4 615.8,698.4 616.0,700.0 616.2,702.7 616.4,705.1 616.6,707.7 616.8,707.2 617.0,708.8 617.2,708.3 617.4,711.7 617.6,716.0 617.8,718.5 618.0,718.5 618.2,718.5 618.4,718.5 618.6,716.9 618.8,717.5 619.0,718.5 619.2,718.5 619.4,718.0 619.6,713.1 619.8,708.0 620.0,708.4 620.2,707.3 620.4,707.1 620.6,711.3 620.8,707.7 621.0,704.0 621.2,704.5 621.4,704.5 621.6,703.8 621.8,695.6 622.0,689.1 622.2,679.7 622.4,678.2 622.6,676.7 622.8,678.1 623.0,676.0 623.2,675.7 623.4,675.5 623.6,683.3 623.8,679.6 624.0,682.1 624.2,684.1 624.4,688.0 624.6,680.9 624.8,676.8 625.0,673.8 625.2,667.6 625.4,660.3 625.6,654.0 625.8,652.5 626.0,652.5 626.2,652.5 626.4,652.5 626.6,653.0 626.8,663.0 627.0,667.3 627.2,675.0 627.4,681.8 627.6,690.0 627.8,696.4 628.0,703.5 628.2,708.5 628.4,712.5 628.6,721.4 628.8,731.7 629.0,740.0 629.2,746.3 629.4,752.1 629.6,755.9 629.8,756.1 630.0,763.0 630.2,764.1 630.4,764.1 630.6,763.6 630.8,761.2 631.0,750.3 631.2,749.3 631.4,745.2 631.6,745.9 631.8,738.0 632.0,732.0 632.2,728.1 632.4,726.2 632.6,723.2 632.8,718.6 633.0,719.4 633.2,714.6 633.4,710.8 633.6,710.0 633.8,707.7 634.0,705.6 634.2,706.0 634.4,704.2 634.6,699.7 634.8,699.5 635.0,699.5 635.2,701.8 635.4,699.5 635.6,700.0 635.8,692.3 636.0,685.9 636.2,679.7 636.4,675.3 636.6,672.9 636.8,673.3 637.0,666.0 637.2,666.5 637.4,666.5 637.6,666.5 637.8,666.5 638.0,666.5 638.2,666.5 638.4,666.5 638.6,664.0 638.8,667.4 639.0,672.2 639.2,677.1 639.4,677.6 639.6,682.0 639.8,678.4 640.0,666.9 640.2,663.4 640.4,650.6 640.6,644.0 640.8,635.3 641.0,629.8 641.2,620.0 641.4,624.9 641.6,628.6 641.8,630.7 642.0,640.0 642.2,642.3 642.4,642.9 642.6,647.7 642.8,648.2 643.0,649.8 643.2,651.3 643.4,660.0 643.6,668.0 643.8,693.2 644.0,714.0 644.2,714.5 644.4,714.4 644.6,715.1 644.8,716.4 645.0,715.1 645.2,717.5 645.4,719.7 645.6,720.0 645.8,714.2 646.0,708.3 646.2,705.9 646.4,698.0 646.6,701.0 646.8,702.3 647.0,701.7 647.2,707.0 647.4,710.4 647.6,714.1 647.8,720.2 648.0,719.3 648.2,722.6 648.4,727.0 648.6,725.4 648.8,718.1 649.0,716.2 649.2,712.8 649.4,712.8 649.6,712.1 649.8,711.5 650.0,712.0 650.2,709.0 650.4,704.7 650.6,700.7 650.8,694.8 651.0,691.7 651.2,682.9 651.4,679.6 651.6,678.0 651.8,684.4 652.0,686.5 652.2,694.1 652.4,695.2 652.6,696.5 652.8,695.2 653.0,696.0 653.2,690.8 653.4,692.8 653.6,691.7 653.8,685.6 654.0,684.6 654.2,683.4 654.4,680.0 654.6,678.4 654.8,675.8 655.0,672.4 655.2,665.5 655.4,665.5 655.6,665.6 655.8,668.5 656.0,666.0 656.2,665.5 656.4,665.6 656.6,669.9 656.8,672.3 657.0,671.8 657.2,674.3 657.4,675.0 657.6,678.0 657.8,674.8 658.0,668.1 658.2,666.4 658.4,666.9 658.6,661.4 658.8,659.5 659.0,660.0 659.2,655.4 659.4,649.9 659.6,653.4 659.8,652.9 660.0,653.1 660.2,646.6 660.4,648.7 660.6,639.9 660.8,634.8 661.0,634.0 661.2,634.5 661.4,630.5 661.6,625.7 661.8,623.9 662.0,614.7 662.2,614.5 662.4,614.0 662.6,608.1 662.8,605.7 663.0,604.2 663.2,601.0 663.4,598.6 663.6,599.8 663.8,593.7 664.0,590.0 664.2,587.5 664.4,589.2 664.6,587.5 664.8,587.5 665.0,587.5 665.2,587.5 665.4,589.7 665.6,588.0 665.8,585.6 666.0,581.1 666.2,578.3 666.4,570.0 666.6,576.4 666.8,582.2 667.0,582.8 667.2,586.8 667.4,589.2 667.6,592.0 667.8,602.7 668.0,606.1 668.2,606.1 668.4,605.8 668.6,610.2 668.8,613.9 669.0,620.0 669.2,620.0 669.4,620.5 669.6,620.5 669.8,620.5 670.0,618.2 670.2,618.2 670.4,620.5 670.6,620.5 670.8,614.8 671.0,615.9 671.2,619.4 671.4,620.3 671.6,613.0 671.8,615.8 672.0,621.7 672.2,627.0 672.4,628.0 672.6,627.6 672.8,633.5 673.0,631.6 673.2,639.0 673.4,641.7 673.6,644.5 673.8,643.4 674.0,644.0 674.2,649.3 674.4,647.5 674.6,657.3 674.8,655.8 675.0,654.8 675.2,658.0 675.4,662.6 675.6,668.0 675.8,666.5 676.0,665.5 676.2,664.3 676.4,662.2 676.6,654.5 676.8,656.3 677.0,656.7 677.2,656.9 677.4,654.5 677.6,655.0 677.8,656.9 678.0,658.7 678.2,664.2 678.4,660.7 678.6,663.5 678.8,662.1 679.0,663.0 679.2,669.8 679.4,668.3 679.6,670.0 679.8,667.2 680.0,669.4 680.2,665.4 680.4,659.1 680.6,659.9 680.8,657.9 681.0,656.0 681.2,661.6 681.4,660.9 681.6,661.9 681.8,664.5 682.0,668.0 682.2,668.5 682.4,674.0 682.6,674.5 682.8,673.4 683.0,674.5 683.2,666.2 683.4,667.4 683.6,663.1 683.8,660.3 684.0,656.0 684.2,651.7 684.4,645.4 684.6,641.9 684.8,644.0 685.0,645.7 685.2,642.4 685.4,638.5 685.6,634.0 685.8,627.0 686.0,630.3 686.2,629.8 686.4,627.3 686.6,622.7 686.8,617.5 687.0,618.0 687.2,618.5 687.4,615.9 687.6,618.5 687.8,613.9 688.0,615.4 688.2,611.2 688.4,609.0 688.6,611.9 688.8,614.5 689.0,619.2 689.2,617.4 689.4,624.0 689.6,631.2 689.8,633.8 690.0,637.9 690.2,637.9 690.4,640.0 690.6,631.0 690.8,626.8 691.0,622.9 691.2,623.0 691.4,621.7 691.6,620.0 691.8,618.5 692.0,617.4 692.2,615.9 692.4,616.4 692.6,609.4 692.8,611.8 693.0,606.0 693.2,600.4 693.4,596.8 693.6,591.5 693.8,593.6 694.0,591.5 694.2,591.5 694.4,592.0 694.6,587.1 694.8,585.5 695.0,587.3 695.2,583.0 695.4,580.3 695.6,575.2 695.8,572.4 696.0,568.0 696.2,561.7 696.4,559.0 696.6,557.9 696.8,551.8 697.0,546.0 697.2,553.2 697.4,556.0 697.6,555.8 697.8,564.0 698.0,564.3 698.2,571.8 698.4,572.0 698.6,572.5 698.8,569.0 699.0,569.2 699.2,572.0 699.4,565.3 699.6,568.0 699.8,561.8 700.0,552.0 700.0,550.0 700.2,549.9 700.4,549.8 700.6,546.4 700.8,534.5 701.0,531.6 701.2,527.8 701.4,523.7 701.6,520.0 701.8,511.5 702.0,511.5 702.2,511.5 702.4,512.0 702.6,506.6 702.8,499.9 703.0,497.5 703.2,497.6 703.4,496.5 703.6,488.0 703.8,487.7 704.0,487.5 704.2,491.9 704.4,495.6 704.6,496.7 704.8,498.5 705.0,498.0 705.2,498.5 705.4,495.2 705.6,493.1 705.8,493.1 706.0,485.9 706.2,479.5 706.4,469.0 706.6,476.0 706.8,482.2 707.0,487.3 707.2,495.6 707.4,493.7 707.6,500.0 707.8,506.7 708.0,512.0 708.2,507.7 708.4,507.2 708.6,498.0 708.8,486.8 709.0,477.0 709.2,470.0 709.4,464.8 709.6,454.0 709.8,461.9 710.0,461.6 710.2,468.7 710.4,474.3 710.6,480.0 710.8,480.5 711.0,474.8 711.2,467.7 711.4,463.2 711.6,460.2 711.8,448.3 712.0,443.0 712.2,443.0 712.4,448.6 712.6,457.3 712.8,460.5 713.0,463.1 713.2,464.5 713.4,457.8 713.6,464.0 713.8,463.2 714.0,460.8 714.2,456.1 714.4,450.0 714.6,458.3 714.8,472.1 715.0,480.7 715.2,495.1 715.4,493.8 715.6,501.0 715.8,500.8 716.0,499.5 716.2,491.7 716.4,487.8 716.6,491.5 716.8,485.1 717.0,480.0 717.2,473.3 717.4,468.9 717.6,469.2 717.8,469.4 718.0,459.0 718.2,462.6 718.4,458.0 718.6,459.1 718.8,469.4 719.0,472.5 719.2,471.0 719.4,471.9 719.6,472.4 719.8,471.9 720.0,474.0 720.2,472.8 720.4,469.4 720.6,459.0 720.8,465.5 721.0,456.7 721.2,452.4 721.4,447.7 721.6,446.0 721.8,442.2 722.0,441.6 722.2,446.5 722.4,445.9 722.6,438.9 722.8,437.8 723.0,432.0 723.2,429.2 723.4,428.7 723.6,428.9 723.8,426.5 724.0,428.9 724.2,426.8 724.4,420.0 724.6,420.5 724.8,420.4 725.0,420.5 725.2,420.5 725.4,420.5 725.6,420.5 725.8,410.4 726.0,403.0 726.2,402.5 726.4,408.7 726.6,402.7 726.8,409.0 727.0,416.0 727.2,420.2 727.4,425.1 727.6,425.0 727.8,427.0 728.0,430.0 728.2,435.7 728.4,442.5 728.6,445.5 728.8,446.5 729.0,448.0 729.2,456.0 729.4,455.5 729.6,456.7 729.8,461.3 730.0,465.4 730.2,466.5 730.4,466.0 730.6,469.4 730.8,473.1 731.0,481.0 731.2,477.8 731.4,481.4 731.6,488.0 731.8,496.6 732.0,508.0 731.8,524.4 731.6,533.0 731.8,533.1 732.0,529.5 732.2,524.1 732.4,527.6 732.6,522.9 732.8,517.4 733.0,513.5 733.2,508.0 733.4,513.6 733.6,516.9 733.8,523.9 734.0,527.3 734.2,526.9 734.4,532.5 734.6,532.0 734.4,557.5 734.2,584.0 734.4,585.6 734.6,591.0 734.8,590.5 735.0,593.1 735.2,593.5 735.4,591.7 735.6,589.5 735.8,590.2 736.0,593.0 736.2,586.9 736.4,581.4 736.6,574.4 736.8,565.7 737.0,560.0 737.2,556.6 737.4,552.0 737.6,550.9 737.8,546.0 738.0,544.3 738.2,541.8 738.4,540.0 738.6,540.5 738.8,539.2 739.0,538.8 739.2,533.7 739.4,535.4 739.6,533.3 739.8,536.0 740.0,526.7 740.2,526.5 740.4,527.0 740.6,526.5 740.8,529.8 741.0,536.7 741.2,543.6 741.4,544.6 741.6,552.0 741.8,556.7 742.0,557.4 742.2,564.2 742.4,568.2 742.6,572.4 742.8,575.0 743.0,571.9 743.2,567.3 743.4,566.3 743.6,562.9 743.8,555.8 744.0,550.0 744.2,550.5 744.4,549.4 744.6,549.5 744.8,550.0 745.0,548.1 745.2,538.3 745.4,537.4 745.6,536.9 745.8,536.1 746.0,532.0 746.2,532.5 746.4,530.1 746.6,524.7 746.8,519.0 747.0,517.4 747.2,510.5 747.4,510.5 747.6,510.5 747.8,510.5 748.0,511.0 748.2,516.1 748.4,518.3 748.6,511.9 748.8,516.4 749.0,520.5 749.2,520.5 749.4,515.3 749.6,520.0 749.8,520.5 750.0,517.3 750.2,514.8 750.4,514.8 750.6,511.5 750.8,512.7 751.0,510.0 751.2,509.5 751.4,506.7 751.6,499.5 751.8,499.5 752.0,500.0 752.2,495.3 752.4,494.6 752.6,493.2 752.8,494.1 753.0,490.4 753.2,493.8 753.4,499.6 753.6,497.8 753.8,502.8 754.0,512.0 754.2,511.5 754.4,514.1 754.6,522.0 754.8,531.7 755.0,533.0 755.2,527.8 755.4,518.0 755.6,511.4 755.8,510.6 756.0,515.6 756.2,510.5 756.4,511.0 756.6,515.9 756.8,517.4 757.0,529.0 757.2,522.8 757.4,525.9 757.6,530.0 757.8,530.5 758.0,530.5 758.2,530.5 758.4,528.9 758.6,526.4 758.8,525.3 759.0,521.0 759.2,528.6 759.4,534.1 759.6,538.9 759.8,540.6 760.0,554.0 760.2,555.7 760.4,553.5 760.6,555.9 760.8,559.1 761.0,563.0 761.2,572.7 761.4,575.6 761.6,578.0 761.8,577.5 762.0,578.6 762.2,578.8 762.4,581.1 762.6,593.3 762.8,595.5 763.0,595.0 763.2,599.8 763.4,601.1 763.6,602.3 763.8,603.1 764.0,604.2 764.2,604.9 764.4,608.0 764.6,613.5 764.8,620.0 765.0,620.6 765.2,622.8 765.4,622.7 765.6,628.0 765.8,628.4 766.0,624.6 766.2,624.2 766.4,628.5 766.6,628.5 766.8,626.2 767.0,623.6 767.2,623.4 767.4,621.0 767.6,620.0 767.8,620.5 768.0,620.5 768.2,618.9 768.4,620.4 768.6,619.3 768.8,618.8 769.0,616.2 769.2,610.8 769.4,606.0 769.6,604.0 769.8,604.9 770.0,603.5 770.2,607.6 770.4,608.3 770.6,609.8 770.8,612.5 771.0,612.0 771.2,616.0 771.4,616.2 771.6,618.9 771.8,619.7 772.0,621.8 772.2,623.6 772.4,624.5 772.6,623.5 772.8,622.5 773.0,624.0 773.2,624.4 773.4,621.3 773.6,620.2 773.8,618.3 774.0,617.1 774.2,616.8 774.4,612.0 774.6,612.6 774.8,612.5 775.0,612.1 775.2,611.5 775.4,611.5 775.6,611.5 775.8,611.5 776.0,611.5 776.2,613.8 776.4,614.0 776.6,614.5 776.8,612.8 777.0,607.3 777.2,603.7 777.4,603.5 777.6,605.7 777.8,605.2 778.0,603.0 778.2,605.5 778.4,606.7 778.6,607.1 778.8,609.6 779.0,611.9 779.2,613.4 779.4,614.7 779.6,616.0 779.8,608.3 780.0,602.6 780.2,594.1 780.4,590.0 780.6,589.5 780.8,591.4 781.0,591.2 781.2,592.9 781.4,595.0 781.6,598.0 781.8,597.4 782.0,593.6 782.2,588.5 782.4,585.4 782.6,583.2 782.8,579.1 783.0,578.0 783.2,584.1 783.4,584.4 783.6,588.0 783.8,592.8 784.0,592.2 784.2,595.5 784.4,598.0 784.6,592.5 784.8,592.0 785.0,589.5 785.2,585.8 785.4,583.7 785.6,582.0 785.8,589.2 786.0,596.0 786.2,602.6 786.4,606.2 786.6,611.2 786.8,617.3 787.0,618.0 787.2,618.5 787.4,618.5 787.6,618.5 787.8,616.9 788.0,617.5 788.2,617.8 788.4,617.0 788.6,616.5 788.8,615.1 789.0,614.0 789.2,610.5 789.4,606.1 789.6,604.1 789.8,600.5 790.0,597.5 790.2,595.0 790.4,594.0 790.6,599.0 790.8,603.4 791.0,607.0 791.2,609.5 791.4,612.8 791.6,618.0 791.8,617.2 792.0,615.2 792.2,611.6 792.4,607.6 792.6,607.0 792.8,607.6 793.0,607.0 793.2,608.5 793.4,612.0 793.6,616.3 793.8,618.5 794.0,623.0 794.2,626.6 794.4,629.0 794.6,628.5 794.8,628.9 795.0,629.8 795.2,628.6 795.4,628.5 795.6,629.0 795.8,630.3 796.0,630.1 796.2,633.2 796.4,633.0 796.6,627.7 796.8,626.2 797.0,622.4 797.2,619.6 797.4,616.2 797.6,611.0 797.8,610.5 798.0,611.7 798.2,615.7 798.4,615.5 798.6,619.5 798.8,621.4 799.0,621.0 799.2,624.8 799.4,629.1 799.6,630.9 799.8,630.5 800.0,634.5 800.2,635.9 800.4,640.0 800.6,639.5 800.8,641.4 801.0,642.4 801.2,642.4 801.4,644.4 801.6,647.1 801.8,648.6 802.0,649.0 802.2,646.9 802.4,641.5 802.6,640.0 802.8,638.4 803.0,638.8 803.2,637.8 803.4,636.0 803.6,634.0 803.8,634.3 804.0,633.5 804.2,635.0 804.4,636.2 804.6,635.9 804.8,634.2 805.0,637.0 805.2,635.5 805.4,631.1 805.6,629.9 805.8,630.7 806.0,628.3 806.2,626.6 806.4,623.5 806.6,621.9 806.8,621.9 807.0,622.4 807.2,624.4 807.4,626.1 807.6,629.3 807.8,630.6 808.0,633.7 808.2,636.9 808.4,637.0 808.6,636.5 808.8,636.5 809.0,638.5 809.2,639.6 809.4,642.4 809.6,640.8 809.8,642.3 810.0,641.9 810.2,642.5 810.4,642.5 810.6,642.5 810.8,642.5 811.0,642.0 811.2,641.0 811.4,638.1 811.6,635.8 811.8,634.7 812.0,632.1 812.2,632.6 812.4,630.0 812.6,629.7 812.8,628.4 813.0,624.8 813.2,622.6 813.4,619.3 813.6,616.9 813.8,615.5 814.0,616.0 814.2,614.2 814.4,615.9 814.6,615.6 814.8,612.2 815.0,607.0 815.2,607.5 815.4,604.5 815.6,605.4 815.8,607.1 816.0,607.5 816.2,607.1 816.4,606.5 816.6,606.8 816.8,606.1 817.0,605.0 817.2,607.8 817.4,613.2 817.6,615.6 817.8,619.6 818.0,621.0 818.2,617.9 818.4,613.7 818.6,611.6 818.8,611.0 819.0,609.8 819.2,607.1 819.4,606.4 819.6,604.0 819.8,606.9 820.0,609.6 820.2,612.7 820.4,610.5 820.6,610.4 820.8,614.0 821.0,616.0 821.2,619.3 821.4,618.3 821.6,616.7 821.8,618.7 822.0,619.0 822.2,621.7 822.4,622.0 822.6,619.1 822.8,617.8 823.0,613.8 823.2,610.5 823.4,607.0 823.6,604.0 823.8,603.6 824.0,601.0 824.2,599.8 824.4,597.1 824.6,597.0 824.8,590.2 825.0,588.0 825.2,584.6 825.4,578.8 825.6,577.0 825.8,573.7 826.0,572.4 826.2,570.5 826.4,568.0 826.6,570.1 826.8,570.3 827.0,572.3 827.2,573.7 827.4,576.5 827.6,578.0 827.8,578.5 828.0,574.5 828.2,573.7 828.4,569.6 828.6,566.1 828.8,564.7 829.0,561.6 829.2,563.2 829.4,567.9 829.6,571.4 829.8,571.4 830.0,575.6 830.2,577.5 830.4,580.0 830.6,577.6 830.8,574.9 831.0,571.1 831.2,571.9 831.4,569.4 831.6,565.0 831.8,569.4 832.0,573.2 832.2,573.1 832.4,574.1 832.6,575.4 832.8,583.3 833.0,587.0 833.2,583.2 833.4,578.8 833.6,577.4 833.8,574.1 834.0,574.0 834.2,572.2 834.4,572.0 834.6,571.8 834.8,572.5 835.0,571.7 835.2,571.4 835.4,568.1 835.6,567.0 835.8,565.2 836.0,564.0 836.2,562.8 836.4,559.8 836.6,558.6 836.8,556.8 837.0,555.0 837.2,559.2 837.4,560.3 837.6,564.1 837.8,565.8 838.0,567.0 838.2,566.5 838.4,567.5 838.6,563.3 838.8,563.9 839.0,562.7 839.2,558.3 839.4,556.1 839.6,554.0 839.8,552.2 840.0,548.9 840.2,543.7 840.4,541.2 840.6,540.3 840.8,539.3 841.0,538.0 841.2,537.1 841.4,531.9 841.6,528.6 841.8,526.1 842.0,525.0 842.2,522.1 842.4,520.0 842.6,517.9 842.8,519.9 843.0,513.0 843.2,517.5 843.4,527.2 843.6,532.3 843.8,533.1 844.0,538.0 844.2,532.3 844.4,528.1 844.6,525.8 844.8,526.4 845.0,524.6 845.2,523.1 845.4,522.4 845.6,520.0 845.8,521.2 846.0,524.0 846.2,527.7 846.4,530.2 846.6,531.8 846.8,534.1 847.0,534.0 847.2,529.6 847.4,527.0 847.6,523.9 847.8,521.6 848.0,522.2 848.2,520.4 848.4,518.0 848.6,517.5 848.8,517.5 849.0,519.0 849.2,518.8 849.4,521.3 849.6,520.7 849.8,522.5 850.0,524.0 850.2,522.2 850.4,517.6 850.6,513.0 850.8,509.7 851.0,506.0 851.2,506.5 851.4,505.6 851.6,502.7 851.8,500.3 852.0,499.5 852.2,498.3 852.4,498.0 852.6,497.8 852.8,505.7 853.0,512.2 853.2,514.8 853.4,515.0 853.6,518.0 853.8,518.5 854.0,515.5 854.2,515.5 854.4,515.5 854.6,515.5 854.8,515.5 855.0,516.0 855.2,508.4 855.4,507.0 855.6,504.5 855.8,499.3 856.0,496.0 856.2,496.5 856.4,494.8 856.6,492.8 856.8,489.7 857.0,490.4 857.2,483.8 857.4,485.0 857.6,481.0 857.8,484.8 858.0,483.0 858.2,482.7 858.4,483.2 858.6,486.7 858.8,484.9 859.0,488.0 859.2,497.1 859.4,510.2 859.6,520.0 859.8,524.1 860.0,526.9 860.2,533.6 860.4,536.0 860.6,532.5 860.8,533.2 861.0,529.9 861.2,527.9 861.4,523.0 861.6,520.0 861.8,527.9 862.0,540.5 862.2,551.6 862.4,561.0 862.6,553.8 862.8,551.6 863.0,548.0 863.2,540.6 863.4,539.8 863.6,534.0 863.8,531.0 864.0,529.2 864.2,524.6 864.4,519.0 864.6,520.0 864.8,524.8 865.0,529.3 865.2,528.5 865.4,533.5 865.6,536.0 865.8,536.0 866.0,535.1 866.2,535.0 866.4,532.0 866.6,529.1 866.8,526.7 867.0,525.0 867.2,528.1 867.4,527.6 867.6,532.7 867.8,533.3 868.0,533.9 868.2,537.2 868.4,540.0 868.6,541.8 868.8,542.2 869.0,542.7 869.2,542.1 869.4,546.8 869.6,551.4 869.8,557.5 870.0,561.0 870.2,560.7 870.4,561.1 870.6,561.5 870.8,560.5 871.0,560.2 871.2,561.5 871.4,559.1 871.6,555.4 871.8,552.5 872.0,553.0 872.2,555.9 872.4,555.9 872.6,557.8 872.8,558.3 873.0,559.5 873.2,559.1 873.4,559.7 873.6,560.3 873.8,563.1 874.0,568.0 874.2,563.6 874.4,563.6 874.6,562.7 874.8,563.6 875.0,564.6 875.2,565.2 875.4,565.8 875.6,563.0 875.8,560.5 876.0,561.0 876.2,563.8 876.4,562.5 876.6,565.5 876.8,565.5 877.0,563.1 877.2,565.3 877.4,564.0 877.6,565.5 877.8,565.5 878.0,565.0 878.2,560.9 878.4,559.4 878.6,560.3 878.8,558.5 879.0,558.5 879.2,558.5 879.4,558.8 879.6,559.0 879.8,560.5 880.0,560.8 880.2,560.2 880.4,563.8 880.6,568.9 880.8,569.4 881.0,572.0 881.2,568.5 881.4,565.1 881.6,563.2 881.8,564.3 882.0,560.1 882.2,558.8 882.4,558.0 882.6,556.9 882.8,556.1 883.0,553.0 883.2,554.6 883.4,553.0 883.6,551.2 883.8,550.9 884.0,548.7 884.2,546.1 884.4,545.0 884.6,549.5 884.8,550.6 885.0,553.2 885.2,551.9 885.4,549.6 885.6,554.5 885.8,554.5 886.0,554.0 886.2,554.2 886.4,555.8 886.6,553.5 886.8,553.5 887.0,553.5 887.2,553.5 887.4,553.5 887.6,555.2 887.8,556.4 888.0,556.0 888.2,555.6 888.4,555.5 888.6,555.5 888.8,555.5 889.0,555.5 889.2,555.5 889.4,558.5 889.6,558.0 889.8,557.7 890.0,558.3 890.2,558.5 890.4,557.1 890.6,555.2 890.8,556.1 891.0,556.3 891.2,556.3 891.4,553.8 891.6,554.0 891.8,552.7 892.0,549.5 892.2,547.9 892.4,549.4 892.6,542.8 892.8,541.2 893.0,536.0 893.2,531.9 893.4,530.1 893.6,529.9 893.8,528.7 894.0,525.0 894.2,524.5 894.4,524.5 894.6,525.3 894.8,525.1 895.0,524.5 895.2,528.5 895.4,528.3 895.6,529.4 895.8,529.7 896.0,530.0 896.2,533.2 896.4,535.8 896.6,540.2 896.8,541.0 897.0,541.2 897.2,548.3 897.4,551.3 897.6,556.0 897.8,554.6 898.0,551.9 898.2,548.2 898.4,541.3 898.6,534.3 898.8,532.4 899.0,530.0 899.2,530.5 899.4,529.0 899.6,525.3 899.8,523.8 900.0,522.0 900.2,520.9 900.4,516.2 900.6,519.4 900.8,516.0 901.0,513.5 901.2,513.7 901.4,513.5 901.6,513.5 901.8,513.5 902.0,514.0 902.2,509.4 902.4,507.8 902.6,503.7 902.8,497.5 903.0,498.0 903.2,501.8 903.4,504.5 903.6,504.5 903.8,504.5 904.0,504.5 904.2,504.5 904.4,504.0 904.6,496.6 904.8,495.0 905.0,490.2 905.2,492.4 905.4,490.0 905.6,480.0 905.8,477.1 906.0,475.4 906.2,469.7 906.4,460.0 906.6,460.5 906.8,457.4 907.0,455.0 907.2,446.6 907.4,440.3 907.6,435.5 907.8,435.5 908.0,436.0 908.2,441.0 908.4,442.8 908.6,449.0 908.8,456.6 909.0,457.8 909.2,460.3 909.4,466.3 909.6,475.0 909.8,471.8 910.0,469.9 910.2,462.4 910.4,450.7 910.6,448.3 910.8,441.8 911.0,438.0 911.2,437.5 911.4,439.4 911.6,437.5 911.8,442.8 912.0,443.4 912.2,445.8 912.4,448.4 912.6,449.5 912.8,449.5 913.0,449.0 913.2,438.3 913.4,436.3 913.6,429.4 913.8,422.9 914.0,416.0 914.2,408.8 914.4,401.4 914.6,394.2 914.8,393.4 915.0,389.8 915.2,391.3 915.4,389.5 915.6,390.0 915.8,386.2 916.0,376.3 916.2,377.3 916.4,373.1 916.6,372.0 916.8,378.4 917.0,382.9 917.2,389.2 917.4,390.7 917.6,391.9 917.8,394.3 918.0,398.0 918.2,397.5 918.4,400.1 918.6,404.9 918.8,415.8 919.0,426.0 919.2,433.8 919.4,444.8 919.6,452.0 919.8,462.1 920.0,470.9 920.2,477.9 920.4,487.0 920.6,478.9 920.8,477.0 921.0,472.8 921.2,465.9 921.4,461.5 921.6,460.0 921.8,451.6 922.0,447.0 922.2,442.8 922.4,442.0 922.6,441.5 922.8,441.5 923.0,442.9 923.2,449.2 923.4,450.5 923.6,450.5 923.8,450.5 924.0,450.0 924.2,447.2 924.4,437.7 924.6,436.6 924.8,425.5 925.0,416.0 925.2,404.8 925.4,401.6 925.6,397.1 925.8,398.9 926.0,394.0 926.2,388.8 926.4,379.4 926.6,374.8 926.8,374.1 927.0,372.7 927.2,373.0 927.4,385.8 927.6,395.2 927.8,407.1 928.0,417.3 928.2,422.2 928.4,438.0 928.6,435.6 928.8,428.2 929.0,425.8 929.2,423.1 929.4,422.9 929.6,424.2 929.8,409.8 930.0,408.0 930.2,408.5 930.4,403.8 930.6,393.9 930.8,391.8 931.0,389.9 931.2,388.0 931.4,380.5 931.6,375.5 931.8,374.5 932.0,374.5 932.2,377.2 932.4,375.0 932.6,382.5 932.8,383.6 933.0,397.3 933.2,406.5 933.4,415.9 933.6,422.0 933.8,421.2 934.0,411.2 934.2,408.1 934.4,405.0 934.6,402.6 934.8,403.8 935.0,400.0 935.2,397.3 935.4,397.4 935.6,388.6 935.8,384.4 936.0,381.6 936.2,382.0 936.4,376.0 936.6,376.5 936.8,376.5 937.0,375.7 937.2,370.4 937.4,365.5 937.6,366.0 937.8,354.1 938.0,344.3 938.3,334.9 938.5,320.0 938.7,314.5 938.9,307.9 939.1,299.9 939.3,292.0 939.2,272.0 939.4,264.0 939.6,263.2 939.9,256.3 940.1,248.7 940.3,244.8 940.5,243.0 940.7,242.4 940.9,239.5 941.1,231.0 941.3,232.4 941.5,226.0 941.7,205.5 941.9,197.8 942.1,201.9 942.3,190.0 942.5,166.0 942.7,163.8 942.9,164.3 943.1,173.7 943.2,183.7 943.4,197.5 943.6,235.0 943.8,250.2 944.0,272.3 944.2,290.0 944.4,314.8 944.6,345.0 944.8,344.5 945.0,346.7 945.2,351.3 945.4,367.9 945.6,369.7 945.8,375.7 946.0,380.0 946.2,370.0 946.4,376.0 946.6,367.1 946.8,366.9 946.9,365.4 947.1,350.0 947.3,344.0 947.5,330.2 947.7,320.0 947.9,327.7 948.1,334.4 948.4,337.4 948.6,355.5 948.8,360.0 949.0,363.6 949.2,374.1 949.4,377.1 949.6,383.0 949.8,391.4 950.0,397.7 950.2,398.2 950.4,387.3 950.6,395.2 950.8,389.2 950.9,370.2 951.1,359.2 951.3,342.8 951.5,336.4 951.7,319.3 951.9,328.1 952.1,346.3 952.3,363.6 952.5,373.9 952.7,388.3 952.9,380.4 953.1,373.7 953.4,366.5 953.6,357.7 953.8,356.8 954.0,338.0 954.2,342.1 954.4,350.8 954.6,355.6 954.8,359.2 955.0,363.8 955.2,373.0 955.4,373.5 955.6,363.5 955.8,353.0 956.0,347.0 956.2,340.6 956.4,321.5 956.6,319.0 956.8,307.9 957.0,295.3 957.3,292.1 957.5,284.3 957.7,290.2 957.9,283.8 958.1,283.8 958.3,290.6 958.5,300.0 958.7,310.1 958.9,317.0 959.1,317.0 959.3,317.0 959.5,316.5 959.7,316.6 959.9,308.8 960.1,315.9 960.3,306.7 960.5,294.0 960.7,294.1 960.9,289.5 961.1,294.5 961.3,290.0 961.5,290.5 961.7,290.5 961.8,290.5 962.0,279.7 962.2,268.0 962.4,265.8 962.6,264.8 962.8,268.5 963.0,252.0 963.2,251.5 963.4,246.3 963.6,248.2 963.9,241.5 964.1,241.5 964.3,242.0 964.5,247.1 964.7,259.1 964.9,257.8 965.1,265.5 965.3,265.0 965.5,282.5 965.7,269.1 965.9,275.6 966.1,275.6 966.3,282.0 966.5,292.3 966.7,300.1 966.9,303.1 967.1,305.5 967.3,305.5 967.5,305.0 967.7,305.5 967.9,305.5 968.0,288.1 968.2,285.7 968.4,277.5 968.6,278.0 968.8,278.5 969.0,267.2 969.2,269.9 969.4,255.3 969.6,255.0 969.9,225.0 970.1,182.7 970.3,198.1 970.5,203.2 970.7,203.2 970.9,203.2 971.1,203.2 971.3,203.2 971.5,202.7 971.7,203.2 971.9,188.2 972.1,158.2 972.3,155.0 972.5,150.0 972.7,131.8 972.9,138.3 973.1,132.2 973.3,119.4 973.5,100.0 973.7,67.2 974.0,68.1 974.2,73.6 974.4,64.0 974.6,69.3 974.8,88.0 975.0,90.8 975.2,110.0 975.4,125.9 975.6,148.8 975.8,160.0 976.0,201.1 976.3,247.0 976.5,247.5 976.7,247.5 976.8,243.6 977.0,236.3 977.2,225.0 977.4,212.9 977.7,207.5 977.9,206.0 978.1,210.2 978.3,213.8 978.5,213.6 978.6,220.2 978.8,230.6 979.0,240.0 979.2,240.5 979.4,232.6 979.6,221.6 979.8,227.1 980.0,220.0 980.2,231.2 980.4,236.1 980.6,252.0 980.4,297.0 980.6,292.2 980.8,282.5 981.0,280.4 981.1,275.3 981.3,280.3 981.5,275.6 981.7,275.0 981.9,279.7 982.1,288.7 982.3,290.1 982.5,305.2 982.7,300.4 982.9,303.7 983.1,304.5 983.3,316.0 983.5,311.9 983.7,311.3 983.9,304.3 984.1,294.2 984.3,281.0 984.5,274.0 984.7,270.2 984.9,272.7 985.1,274.5 985.2,274.5 985.4,274.5 985.6,274.5 985.8,270.2 986.0,270.7 986.2,279.0 986.5,300.0 986.7,308.6 986.9,329.2 987.0,350.5 987.2,350.0 987.4,366.1 987.6,381.7 987.8,398.8 988.0,406.3 988.2,398.3 988.4,380.0 988.6,364.7 988.8,350.0 989.0,342.1 989.2,319.1 989.4,305.0 989.6,303.6 989.8,296.2 990.0,296.2 990.1,299.4 990.3,294.5 990.5,295.0 990.7,290.5 990.9,284.7 991.1,287.6 991.3,286.9 991.5,280.3 991.7,279.8 991.9,285.9 992.1,296.9 992.4,302.3 992.6,310.5 992.8,310.0 993.0,323.3 993.2,336.8 993.3,349.2 993.5,355.0 993.7,366.0 993.9,357.3 994.1,355.5 994.3,347.9 994.5,340.1 994.7,324.9 994.9,321.7 995.1,320.7 995.3,307.3 995.5,321.1 995.7,332.3 995.9,341.0 996.1,340.3 996.3,362.4 996.5,357.5 996.7,368.7 996.9,357.2 997.1,356.8 997.3,345.0 997.5,344.5 997.7,344.5 997.9,345.2 998.0,344.5 998.2,344.5 998.4,344.5 998.6,346.0 998.8,330.9 999.0,319.2 999.2,305.0 999.4,286.2 999.6,276.2 999.9,267.4 1000.1,266.7 1000.3,252.0 1000.5,262.3 1000.7,278.7 1000.9,285.0 1001.1,292.7 1001.3,301.0 1001.5,302.5 1001.7,302.0 1001.9,297.7 1002.1,285.7 1002.4,271.7 1002.6,248.3 1002.8,235.9 1003.0,232.0 1003.2,216.3 1003.4,208.8 1003.6,208.8 1003.8,212.6 1004.0,219.9 1004.2,209.3 1004.4,242.8 1004.6,265.0 1004.8,279.9 1005.1,287.7 1005.3,300.0 1005.5,313.6 1005.7,319.5 1005.9,320.9 1006.1,324.7 1006.3,330.0 1006.5,334.6 1006.7,344.5 1006.8,357.3 1007.0,370.5 1007.2,370.3 1007.4,370.0 1007.6,375.6 1007.9,396.0 1008.1,396.5 1008.3,396.5 1008.5,396.5 1008.7,396.5 1008.8,396.5 1009.0,396.5 1009.2,391.2 1009.4,393.4 1009.6,391.0 1009.9,420.0 1010.1,425.0 1010.3,435.3 1010.5,439.6 1010.7,455.0 1010.9,454.8 1011.1,457.0 1011.4,470.5 1011.6,469.8 1011.8,470.5 1012.0,470.0 1012.2,474.4 1012.4,477.0 1012.6,474.6 1012.8,477.4 1013.0,484.0 1013.2,498.3 1013.4,504.3 1013.6,510.1 1013.8,520.5 1014.0,520.0 1014.2,519.5 1014.4,519.5 1014.6,521.9 1014.8,532.2 1015.0,542.0 1015.2,551.9 1015.4,562.4 1015.6,563.4 1015.8,570.5 1016.0,580.0 1016.2,580.7 1016.4,583.0 1016.6,584.5 1016.8,584.5 1017.0,584.0 1016.8,583.5 1016.6,593.7 1016.4,594.8 1016.2,592.6 1016.0,603.0 1016.2,602.5 1016.4,606.6 1016.6,604.8 1016.8,615.3 1017.0,618.8 1017.2,619.5 1017.4,620.0 1017.6,623.4 1017.8,631.5 1018.0,645.3 1018.2,647.7 1018.4,646.8 1018.6,654.0 1018.8,665.7 1019.0,665.8 1019.2,669.6 1019.4,672.0 1019.2,685.1 1019.0,698.0 1019.2,689.2 1019.4,678.7 1019.6,676.1 1019.8,661.5 1020.0,658.7 1020.2,653.5 1020.4,655.2 1020.6,654.0 1020.8,658.6 1021.0,664.6 1021.2,670.5 1021.4,674.5 1021.6,682.0 1021.8,693.5 1022.0,694.0 1022.2,688.3 1022.4,690.0 1022.6,688.5 1022.8,680.2 1023.0,672.0 1023.2,672.9 1023.4,671.5 1023.6,680.2 1023.8,685.0 1024.0,686.6 1024.2,685.1 1024.4,688.1 1024.6,690.5 1024.8,702.4 1025.0,705.0 1025.2,700.9 1025.4,700.9 1025.6,699.1 1025.8,693.8 1026.0,680.0 1026.2,680.5 1026.4,679.1 1026.6,672.3 1026.8,667.1 1027.0,658.0 1027.2,657.5 1027.4,657.5 1027.6,657.5 1027.8,657.5 1028.0,657.5 1028.2,661.3 1028.4,664.6 1028.6,666.0 1028.8,653.2 1029.0,647.2 1029.2,643.9 1029.4,638.0 1029.6,644.9 1029.8,643.8 1030.0,640.4 1030.2,647.3 1030.4,645.8 1030.6,648.0 1030.8,649.8 1031.0,652.7 1031.2,654.1 1031.4,654.4 1031.6,649.0 1031.8,660.4 1032.0,664.0 1032.2,665.1 1032.4,670.7 1032.6,675.3 1032.8,680.5 1033.0,680.0 1033.2,685.2 1033.4,694.9 1033.6,696.7 1033.8,702.7 1034.0,708.0 1034.2,707.5 1034.4,716.9 1034.6,714.7 1034.8,716.9 1035.0,720.0 1035.2,726.5 1035.4,728.5 1035.6,729.6 1035.8,728.1 1036.0,730.0 1036.2,727.3 1036.4,727.3 1036.6,729.8 1036.8,729.8 1037.0,727.0 1037.2,725.5 1037.4,726.9 1037.6,725.5 1037.8,725.5 1038.0,726.0 1038.2,732.9 1038.4,736.1 1038.6,736.6 1038.8,735.1 1039.0,740.2 1039.2,739.4 1039.4,744.0 1039.6,743.7 1039.8,746.6 1040.0,750.6 1040.2,753.7 1040.4,757.1 1040.6,761.0 1040.8,756.8 1041.0,752.7 1041.2,752.1 1041.4,758.5 1041.6,758.0 1041.8,754.5 1042.0,752.0 1042.2,751.9 1042.4,752.5 1042.6,752.5 1042.8,752.5 1043.0,752.5 1043.2,752.5 1043.4,750.9 1043.6,750.1 1043.8,748.5 1044.0,749.0 1044.2,745.5 1044.4,745.5 1044.6,745.5 1044.8,745.5 1045.0,746.0 1045.2,749.9 1045.4,749.2 1045.6,752.0 1045.8,755.6 1046.0,757.0 1046.2,757.5 1046.4,761.0 1046.6,759.9 1046.8,756.9 1047.0,754.3 1047.2,751.2 1047.4,748.0 1047.6,746.8 1047.8,747.8 1048.0,743.5 1048.2,742.5 1048.4,743.8 1048.6,743.3 1048.8,742.5 1049.0,743.0 1049.2,743.8 1049.4,744.3 1049.6,743.8 1049.8,743.8 1050.0,747.1 1050.2,751.5 1050.4,753.5 1050.6,755.0 1050.8,755.5 1051.0,755.5 1051.2,755.5 1051.4,755.5 1051.6,755.1 1051.8,752.5 1052.0,752.5 1052.2,752.5 1052.4,752.5 1052.6,753.0 1052.8,753.3 1053.0,752.0 1053.2,750.3 1053.4,748.3 1053.6,744.9 1053.8,743.5 1054.0,744.0 1054.2,741.6 1054.4,739.6 1054.6,739.3 1054.8,740.5 1055.0,741.5 1055.2,738.9 1055.4,738.0 1055.6,740.0 1055.8,740.1 1056.0,742.7 1056.2,744.3 1056.4,748.6 1056.6,752.0 1056.8,753.0 1057.0,755.7 1057.2,757.5 1057.4,758.8 1057.6,760.4 1057.8,765.0 1058.0,766.7 1058.2,766.0 1058.4,767.0 1058.6,767.5 1058.8,767.5 1059.0,767.5 1059.2,766.8 1059.4,765.4 1059.6,761.9 1059.8,761.9 1060.0,761.0 1060.2,759.7 1060.4,761.5 1060.6,759.7 1060.8,759.4 1061.0,759.1 1061.2,756.0 1061.4,753.0 1061.6,754.1 1061.8,753.6 1062.0,752.0 1062.2,746.1 1062.4,744.1 1062.6,741.5 1062.8,742.1 1063.0,741.3 1063.2,739.2 1063.4,736.0 1063.6,735.5 1063.8,733.7 1064.0,733.7 1064.2,733.5 1064.4,734.2 1064.6,735.8 1064.8,735.7 1065.0,734.0 1065.2,733.5 1065.4,734.5 1065.6,730.7 1065.8,729.5 1066.0,728.4 1066.2,727.4 1066.4,726.3 1066.6,724.0 1066.8,722.9 1067.0,724.5 1067.2,724.5 1067.4,724.5 1067.6,718.3 1067.8,718.3 1068.0,716.0 1068.2,717.2 1068.4,716.2 1068.6,719.2 1068.8,721.4 1069.0,722.5 1069.2,726.7 1069.4,734.0 1069.6,733.9 1069.8,733.1 1070.0,729.1 1070.2,727.3 1070.4,724.0 1070.6,723.2 1070.8,721.2 1071.0,718.0 1071.2,721.3 1071.4,722.1 1071.6,725.9 1071.8,731.2 1072.0,732.7 1072.2,736.1 1072.4,734.9 1072.6,739.0 1072.8,738.1 1073.0,733.3 1073.2,734.2 1073.4,731.7 1073.6,725.4 1073.8,719.9 1074.0,719.0 1074.2,720.1 1074.4,724.1 1074.6,722.5 1074.8,724.0 1075.0,727.7 1075.2,727.9 1075.4,731.0 1075.6,728.0 1075.8,726.5 1076.0,725.0 1076.2,727.4 1076.4,722.6 1076.6,722.0 1076.8,722.5 1077.0,718.0 1077.2,718.9 1077.4,720.5 1077.6,720.5 1077.8,720.5 1078.0,720.5 1078.2,719.4 1078.4,720.5 1078.6,720.0 1078.8,720.7 1079.0,720.7 1079.2,723.2 1079.4,724.0 1079.6,724.0 1079.8,725.3 1080.0,728.0 1080.2,728.8 1080.4,733.6 1080.6,732.8 1080.8,736.2 1081.0,738.0 1081.2,738.5 1081.4,738.5 1081.6,737.5 1081.8,735.5 1082.0,738.2 1082.2,738.5 1082.4,736.5 1082.6,735.5 1082.8,735.5 1083.0,736.0 1083.2,735.8 1083.4,730.7 1083.6,730.1 1083.8,731.0 1084.0,730.0 1084.2,731.3 1084.4,731.4 1084.6,731.5 1084.8,731.5 1085.0,731.5 1085.2,731.5 1085.4,731.5 1085.6,731.5 1085.8,731.5 1086.0,731.0 1086.2,731.5 1086.4,731.5 1086.6,728.5 1086.8,728.5 1087.0,729.7 1087.2,731.5 1087.4,730.0 1087.6,731.5 1087.8,730.7 1088.0,729.0 1088.2,729.5 1088.4,729.5 1088.6,729.5 1088.8,728.2 1089.0,726.1 1089.2,723.7 1089.4,723.4 1089.6,720.5 1089.8,721.7 1090.0,721.0 1090.2,719.1 1090.4,718.5 1090.6,718.5 1090.8,719.2 1091.0,718.5 1091.2,719.5 1091.4,721.4 1091.6,721.5 1091.8,721.5 1092.0,719.0 1092.2,720.5 1092.4,720.1 1092.6,720.8 1092.8,718.5 1093.0,718.5 1093.2,718.5 1093.4,718.5 1093.6,718.5 1093.8,721.3 1094.0,722.0 1094.2,721.2 1094.4,722.5 1094.6,722.3 1094.8,721.1 1095.0,722.2 1095.2,721.5 1095.4,718.0 1095.6,717.2 1095.8,717.4 1096.0,714.8 1096.2,716.0 1096.4,715.6 1096.6,716.4 1096.8,714.5 1097.0,714.5 1097.2,714.5 1097.4,715.0 1097.6,715.5 1097.8,715.5 1098.0,715.4 1098.2,713.6 1098.4,714.8 1098.6,712.8 1098.8,712.3 1099.0,708.0 1099.2,704.8 1099.4,707.5 1099.6,707.1 1099.8,706.9 1100.0,702.6 1100.2,702.0 1100.4,705.1 1100.6,702.0 1100.8,701.5 1101.0,701.7 1101.2,702.8 1101.4,704.5 1101.6,704.4 1101.8,704.1 1102.0,704.0 1102.2,706.4 1102.4,707.6 1102.6,710.3 1102.8,709.7 1103.0,712.0 1103.2,712.6 1103.4,714.0 1103.6,716.5 1103.8,717.5 1104.0,717.9 1104.2,716.0 1104.4,717.0 1104.6,719.3 1104.8,719.2 1105.0,720.0 1105.2,719.5 1105.4,719.5 1105.6,720.7 1105.8,724.7 1106.0,725.9 1106.2,724.9 1106.4,726.0 1106.6,721.3 1106.8,718.8 1107.0,720.1 1107.2,718.6 1107.4,716.3 1107.6,716.1 1107.8,713.4 1108.0,712.0 1108.2,710.9 1108.4,710.2 1108.6,706.1 1108.8,705.9 1109.0,706.0 1109.2,702.5 1109.4,702.5 1109.6,702.5 1109.8,702.5 1110.0,702.5 1110.2,702.5 1110.4,702.6 1110.6,704.5 1110.8,703.7 1111.0,703.0 1111.2,705.2 1111.4,707.7 1111.6,710.3 1111.8,712.4 1112.0,713.0 1112.2,713.1 1112.4,712.1 1112.6,712.1 1112.8,705.7 1113.0,705.7 1113.2,699.5 1113.4,698.0 1113.6,696.2 1113.8,695.8 1114.0,694.4 1114.2,693.2 1114.4,693.0 1114.6,693.0 1114.8,692.4 1115.0,690.5 1115.2,690.5 1115.4,690.5 1115.6,690.5 1115.8,690.8 1116.0,691.0 1116.2,690.5 1116.4,693.3 1116.6,697.2 1116.8,698.0 1117.0,698.8 1117.2,700.5 1117.4,700.0 1117.6,700.2 1117.8,704.0 1118.0,707.4 1118.2,708.2 1118.4,708.6 1118.6,711.0 1118.8,706.9 1119.0,704.4 1119.2,702.4 1119.4,696.4 1119.6,695.9 1119.8,695.7 1120.0,696.0 1120.2,695.6 1120.4,695.5 1120.6,696.2 1120.8,696.0 1121.0,701.9 1121.2,702.4 1121.4,704.0 1121.6,701.6 1121.8,699.7 1122.0,699.7 1122.2,694.9 1122.4,693.8 1122.6,691.3 1122.8,686.5 1123.0,684.0 1123.2,680.3 1123.4,682.3 1123.6,679.9 1123.8,680.7 1124.0,682.2 1124.2,679.9 1124.4,677.2 1124.6,676.4 1124.8,673.5 1125.0,674.0 1125.2,676.4 1125.4,677.0 1125.6,677.8 1125.8,681.2 1126.0,680.5 1126.2,685.7 1126.4,686.3 1126.6,688.0 1126.8,687.5 1127.0,689.5 1127.2,691.2 1127.4,693.7 1127.6,695.0 1127.8,695.3 1128.0,698.5 1128.2,699.9 1128.4,700.8 1128.6,702.0 1128.8,700.8 1129.0,698.7 1129.2,695.8 1129.4,690.3 1129.6,691.6 1129.8,686.6 1130.0,680.0 1130.2,681.5 1130.4,687.9 1130.6,693.0 1130.8,694.7 1131.0,698.1 1131.2,700.5 1131.4,700.0 1131.6,698.7 1131.8,698.5 1132.0,700.0 1132.2,697.1 1132.4,692.2 1132.6,688.6 1132.8,688.5 1133.0,688.0 1133.2,686.4 1133.4,684.7 1133.6,682.1 1133.8,677.6 1134.0,676.6 1134.2,675.4 1134.4,674.6 1134.6,675.0 1134.8,674.5 1135.0,674.5 1135.2,674.5 1135.4,674.5 1135.6,674.5 1135.8,674.5 1136.0,674.5 1136.2,674.5 1136.4,680.4 1136.6,680.0 1136.8,676.4 1137.0,672.0 1137.2,669.2 1137.4,666.9 1137.6,661.8 1137.8,661.0 1138.0,660.0 1138.2,663.5 1138.4,666.0 1138.6,668.2 1138.8,667.6 1139.0,671.6 1139.2,672.3 1139.4,674.0 1139.6,674.5 1139.8,671.9 1140.0,669.8 1140.2,670.3 1140.4,672.8 1140.6,670.4 1140.8,671.4 1141.0,669.0 1141.2,671.0 1141.4,673.1 1141.6,672.1 1141.8,675.3 1142.0,680.0 1142.2,681.3 1142.4,682.5 1142.6,682.0 1142.8,682.5 1143.0,682.5 1143.2,682.5 1143.4,682.5 1143.6,682.5 1143.8,682.5 1144.0,680.0 1144.2,684.7 1144.4,691.0 1144.6,692.0 1144.8,692.9 1145.0,694.0 1145.2,694.8 1145.4,697.7 1145.6,702.2 1145.8,702.2 1146.0,704.8 1146.2,703.4 1146.4,708.0 1146.6,705.4 1146.8,701.8 1147.0,702.2 1147.2,699.6 1147.4,699.7 1147.6,699.2 1147.8,699.9 1148.0,696.0 1148.2,693.8 1148.4,692.1 1148.6,689.4 1148.8,689.9 1149.0,686.2 1149.2,685.8 1149.4,686.0 1149.6,680.0 1149.8,676.6 1150.0,673.3 1150.2,670.7 1150.4,669.9 1150.6,668.0 1150.8,668.3 1151.0,667.6 1151.2,667.6 1151.4,668.8 1151.6,669.5 1151.8,669.0 1152.0,669.0 1152.2,669.8 1152.4,671.7 1152.6,671.1 1152.8,675.2 1153.0,678.7 1153.2,680.7 1153.4,681.6 1153.6,683.0 1153.8,677.3 1154.0,669.9 1154.2,668.7 1154.4,670.7 1154.6,663.9 1154.8,657.3 1155.0,654.0 1155.2,658.2 1155.4,658.0 1155.6,657.2 1155.8,661.2 1156.0,660.2 1156.2,666.0 1156.4,668.0 1156.6,671.4 1156.8,674.6 1157.0,676.8 1157.2,679.7 1157.4,682.4 1157.6,688.0 1157.8,690.4 1158.0,693.0 1158.2,694.7 1158.4,696.1 1158.6,697.4 1158.8,700.0 1159.0,706.0 1159.2,709.2 1159.4,710.9 1159.6,715.1 1159.8,718.1 1160.0,719.8 1160.2,720.5 1160.4,720.0 1160.6,719.8 1160.8,718.7 1161.0,715.3 1161.2,714.5 1161.4,715.2 1161.6,715.0 1161.8,715.3 1162.0,715.0 1162.2,711.8 1162.4,710.3 1162.6,710.0 1162.8,707.1 1163.0,705.7 1163.2,705.2 1163.4,702.0 1163.6,700.0 1163.8,700.2 1164.0,702.8 1164.2,703.7 1164.4,707.3 1164.6,707.4 1164.8,712.0 1165.0,713.0 1165.2,708.9 1165.4,704.7 1165.6,703.3 1165.8,699.2 1166.0,699.9 1166.2,699.6 1166.4,698.0 1166.6,694.1 1166.8,692.8 1167.0,690.2 1167.2,687.5 1167.4,687.5 1167.6,688.0 1167.8,686.2 1168.0,686.8 1168.2,688.4 1168.4,685.8 1168.6,684.3 1168.8,684.0 1169.0,684.0 1169.2,680.3 1169.4,679.2 1169.6,677.4 1169.8,677.7 1170.0,673.1 1170.2,670.5 1170.4,668.0 1170.6,664.2 1170.8,662.4 1171.0,657.9 1171.2,660.2 1171.4,655.5 1171.6,654.0 1171.8,654.5 1172.0,654.5 1172.2,654.5 1172.4,652.5 1172.6,651.1 1172.8,651.6 1173.0,651.0 1173.2,653.3 1173.4,655.5 1173.6,654.8 1173.8,654.0 1174.0,656.5 1174.2,656.5 1174.4,656.0 1174.6,656.5 1174.8,656.4 1175.0,653.7 1175.2,654.9 1175.4,651.8 1175.6,649.2 1175.8,650.5 1176.0,648.0 1176.2,653.4 1176.4,654.0 1176.6,659.8 1176.8,660.5 1177.0,661.0 1177.2,657.8 1177.4,655.4 1177.6,652.5 1177.8,650.6 1178.0,650.2 1178.2,645.8 1178.4,642.0 1178.6,636.6 1178.8,638.6 1179.0,637.4 1179.2,636.2 1179.4,635.5 1179.6,636.0 1179.8,637.8 1180.0,640.7 1180.2,641.5 1180.4,642.3 1180.6,643.3 1180.8,640.6 1181.0,644.0 1181.2,644.8 1181.4,646.9 1181.6,652.2 1181.8,656.3 1182.0,662.0 1182.2,662.2 1182.4,662.5 1182.6,662.3 1182.8,658.6 1183.0,659.5 1183.2,654.6 1183.4,651.2 1183.6,650.0 1183.8,654.9 1184.0,660.0 1184.2,664.6 1184.4,672.6 1184.6,673.0 1184.8,671.2 1185.0,669.1 1185.2,664.7 1185.4,661.5 1185.6,655.3 1185.8,654.5 1186.0,655.0 1186.2,654.5 1186.4,658.3 1186.6,658.5 1186.8,658.5 1187.0,658.5 1187.2,658.5 1187.4,658.5 1187.6,658.0 1187.8,662.1 1188.0,663.0 1188.2,664.9 1188.4,665.5 1188.6,665.5 1188.8,665.5 1189.0,665.0 1189.2,665.3 1189.4,665.5 1189.6,663.2 1189.8,661.2 1190.0,658.1 1190.2,658.5 1190.4,658.3 1190.6,657.4 1190.8,655.2 1191.0,655.0 1191.2,656.7 1191.4,656.8 1191.6,659.1 1191.8,659.4 1192.0,662.9 1192.2,665.7 1192.4,666.0 1192.6,669.7 1192.8,672.4 1193.0,673.6 1193.2,674.3 1193.4,673.6 1193.6,674.0 1193.8,673.3 1194.0,674.3 1194.2,671.7 1194.4,670.7 1194.6,670.0 1194.8,670.2 1195.0,669.7 1195.2,670.7 1195.4,670.8 1195.6,668.0 1195.8,670.2 1196.0,667.5 1196.2,668.1 1196.4,669.6 1196.6,672.1 1196.8,673.0 1197.0,676.0 1197.2,678.5 1197.4,676.9 1197.6,675.8 1197.8,676.3 1198.0,677.2 1198.2,677.4 1198.4,679.0 1198.6,674.8 1198.8,674.3 1199.0,674.6 1199.2,674.8 1199.4,673.7 1199.6,671.3 1199.8,670.1 1200.0,668.0 1200.2,664.5 1200.4,663.0 1200.6,662.6 1200.8,661.2 1201.0,659.0 1201.2,657.9 1201.4,656.5 1201.6,656.0 1201.8,655.5 1202.0,655.5 1202.2,656.4 1202.4,656.0 1202.6,656.3 1202.8,653.3 1203.0,646.8 1203.2,645.4 1203.4,646.2 1203.6,645.0 1203.8,644.9 1204.0,644.5 1204.2,646.5 1204.4,646.6 1204.6,648.3 1204.8,651.7 1205.0,654.0 1205.2,658.6 1205.4,658.5 1205.6,660.5 1205.8,660.5 1206.0,660.5 1206.2,660.5 1206.4,660.0 1206.6,659.5 1206.8,661.3 1207.0,661.2 1207.2,665.9 1207.4,665.8 1207.6,666.1 1207.8,667.6 1208.0,668.0 1208.2,668.2 1208.4,667.2 1208.6,664.5 1208.8,661.5 1209.0,661.5 1209.2,661.5 1209.4,661.6 1209.6,662.0 1209.8,660.5 1210.0,659.7 1210.2,659.8 1210.4,656.5 1210.6,654.3 1210.8,653.5 1211.0,654.0 1211.2,649.9 1211.4,650.4 1211.6,647.5 1211.8,651.1 1212.0,649.0 1212.2,647.5 1212.4,648.0 1212.6,650.3 1212.8,652.7 1213.0,651.1 1213.2,653.9 1213.4,656.5 1213.6,656.5 1213.8,656.5 1214.0,656.0 1214.2,655.8 1214.4,654.1 1214.6,651.9 1214.8,647.1 1215.0,648.1 1215.2,647.6 1215.4,645.5 1215.6,646.0 1215.8,642.6 1216.0,643.1 1216.2,639.6 1216.4,641.1 1216.6,639.1 1216.8,640.3 1217.0,638.0 1217.2,637.5 1217.4,638.5 1217.6,635.3 1217.8,634.1 1218.0,631.0 1218.2,631.5 1218.4,630.6 1218.6,629.3 1218.8,628.4 1219.0,630.4 1219.2,627.7 1219.4,627.2 1219.6,626.0 1219.8,627.4 1220.0,628.3 1220.2,630.6 1220.4,633.5 1220.6,632.9 1220.8,635.9 1221.0,636.0 1221.2,637.0 1221.4,642.7 1221.6,641.7 1221.8,642.5 1222.0,643.0 1222.2,643.5 1222.4,642.8 1222.6,638.5 1222.8,634.5 1223.0,634.3 1223.2,634.2 1223.4,635.7 1223.6,634.0 1223.8,634.3 1224.0,631.1 1224.2,632.7 1224.4,631.5 1224.6,630.5 1224.8,630.5 1225.0,631.0 1225.2,629.6 1225.4,627.4 1225.6,625.6 1225.8,624.5 1226.0,624.5 1226.2,625.0 1226.4,625.0 1226.6,627.5 1226.8,632.0 1227.0,633.5 1227.2,633.0 1227.4,630.2 1227.6,632.8 1227.8,633.5 1228.0,635.0 1228.2,634.5 1228.4,634.0 1228.6,629.3 1228.8,625.9 1229.0,624.7 1229.2,623.5 1229.4,624.0 1229.6,622.6 1229.8,617.9 1230.0,620.2 1230.2,616.4 1230.4,614.0 1230.6,613.4 1230.8,609.7 1231.0,613.6 1231.2,612.7 1231.4,612.4 1231.6,610.0 1231.8,615.5 1232.0,617.4 1232.2,616.6 1232.4,618.5 1232.6,617.2 1232.8,616.6 1233.0,618.0 1233.2,620.5 1233.4,620.8 1233.6,626.4 1233.8,631.7 1234.0,632.0 1234.2,635.8 1234.4,637.5 1234.6,639.7 1234.8,644.7 1235.0,648.0 1235.2,649.6 1235.4,651.6 1235.6,651.1 1235.8,655.4 1236.0,655.7 1236.2,660.1 1236.4,661.0 1236.6,658.7 1236.8,660.2 1237.0,659.2 1237.2,656.5 1237.4,655.5 1237.6,655.5 1237.8,656.2 1238.0,656.0 1238.2,653.4 1238.4,649.4 1238.6,646.3 1238.8,644.3 1239.0,643.0 1239.2,642.5 1239.4,644.2 1239.6,642.5 1239.8,642.5 1240.0,642.5 1240.2,642.6 1240.4,642.5 1240.6,643.6 1240.8,642.5 1241.0,644.0 1241.2,644.5 1241.4,644.5 1241.6,644.5 1241.8,644.5 1242.0,644.5 1242.2,644.5 1242.4,642.0 1242.6,643.6 1242.8,645.8 1243.0,643.4 1243.2,644.1 1243.4,648.8 1243.6,644.0 1243.8,646.0 1244.0,649.0 1244.2,649.1 1244.4,648.9 1244.6,649.5 1244.8,649.5 1245.0,646.9 1245.2,644.4 1245.4,643.3 1245.6,643.0 1245.8,641.2 1246.0,640.1 1246.2,642.7 1246.4,636.5 1246.6,637.3 1246.8,638.3 1247.0,638.7 1247.2,637.9 1247.4,637.1 1247.6,637.0 1247.8,639.0 1248.0,639.0 1248.2,642.2 1248.4,642.0 1248.6,644.5 1248.8,646.3 1249.0,646.6 1249.2,650.4 1249.4,652.8 1249.6,653.0 1249.8,649.6 1250.0,643.6 1250.2,643.4 1250.4,641.2 1250.6,642.1 1250.8,637.8 1251.0,636.0 1251.2,633.3 1251.4,631.5 1251.6,631.5 1251.8,631.5 1252.0,631.6 1252.2,631.5 1252.4,632.0 1252.6,631.3 1252.8,626.8 1253.0,623.7 1253.2,619.0 1253.4,619.9 1253.6,616.0 1253.8,616.0 1254.0,616.0 1254.2,613.5 1254.4,610.5 1254.6,609.3 1254.8,605.7 1255.0,601.0 1255.2,600.5 1255.4,603.8 1255.6,606.7 1255.8,614.4 1256.0,611.3 1256.2,614.5 1256.4,614.0 1256.6,613.2 1256.8,611.0 1257.0,607.1 1257.2,607.3 1257.4,601.9 1257.6,596.0 1257.8,591.4 1258.0,588.1 1258.2,587.2 1258.4,588.0 1258.6,590.7 1258.8,588.6 1259.0,585.0 1259.2,588.5 1259.4,591.7 1259.6,594.8 1259.8,598.1 1260.0,600.0 1260.2,603.0 1260.4,604.7 1260.6,607.3 1260.8,606.4 1261.0,610.0 1261.2,614.9 1261.4,620.0 1261.6,618.9 1261.8,616.1 1262.0,612.8 1262.2,609.9 1262.4,608.5 1262.6,608.2 1262.8,605.5 1263.0,606.0 1263.2,600.4 1263.4,597.5 1263.6,596.5 1263.8,596.5 1264.0,600.7 1264.2,598.7 1264.4,597.0 1264.6,597.4 1264.8,598.4 1265.0,599.5 1265.2,608.5 1265.4,606.9 1265.6,608.1 1265.8,607.3 1266.0,610.0 1266.2,612.3 1266.4,617.8 1266.6,618.5 1266.8,628.5 1267.0,633.0 1267.2,631.7 1267.4,637.5 1267.6,640.0 1267.8,634.1 1268.0,632.8 1268.2,628.7 1268.4,628.3 1268.6,624.1 1268.8,624.1 1269.0,622.0 1269.2,620.5 1269.4,618.5 1269.6,614.9 1269.8,611.3 1270.0,610.1 1270.2,609.7 1270.4,609.5 1270.6,610.0 1270.8,610.5 1271.0,604.8 1271.2,604.6 1271.4,601.0 1271.6,598.3 1271.8,593.5 1272.0,594.0 1272.2,586.5 1272.4,581.2 1272.6,574.0 1272.8,575.1 1273.0,574.0 1273.2,566.3 1273.4,561.5 1273.6,559.3 1273.8,554.5 1274.0,550.0 1274.2,539.9 1274.4,534.2 1274.6,524.1 1274.8,521.5 1275.0,522.0 1275.2,525.6 1275.4,535.9 1275.6,541.9 1275.8,544.4 1276.0,548.0 1276.2,540.0 1276.4,535.7 1276.6,533.3 1276.8,531.7 1277.0,526.0 1277.2,521.8 1277.4,521.5 1277.6,526.5 1277.8,526.5 1278.0,526.5 1278.2,520.6 1278.4,519.0 1278.6,528.2 1278.8,532.3 1279.0,544.2 1279.2,549.6 1279.4,554.0 1279.6,549.2 1279.8,546.1 1280.0,546.6 1280.2,541.9 1280.4,533.1 1280.6,530.0 1280.8,527.0 1281.0,527.5 1281.2,518.8 1281.4,519.2 1281.6,516.7 1281.8,513.5 1282.0,506.0 1282.2,505.5 1282.4,505.5 1282.6,508.0 1282.8,510.5 1283.0,516.0 1283.2,526.8 1283.4,531.5 1283.6,536.0 1283.8,550.9 1284.0,555.3 1284.2,562.5 1284.4,570.0 1284.6,565.6 1284.8,562.9 1285.0,557.0 1285.2,557.6 1285.4,550.0 1285.6,544.9 1285.8,536.8 1286.0,529.8 1286.2,529.3 1286.4,529.0 1286.6,526.0 1286.8,535.6 1287.0,544.5 1287.2,549.3 1287.4,556.0 1287.6,549.3 1287.8,548.1 1288.0,538.7 1288.2,532.1 1288.4,526.0 1288.6,530.2 1288.8,531.5 1289.0,531.5 1289.2,531.5 1289.4,531.0 1289.6,515.5 1289.8,506.6 1290.0,505.9 1290.2,498.0 1290.4,498.5 1290.6,498.5 1290.8,498.5 1291.0,497.1 1291.2,495.1 1291.4,495.0 1291.6,502.6 1291.8,506.7 1292.0,513.3 1292.2,517.8 1292.4,520.2 1292.6,525.0 1292.8,516.8 1293.0,514.3 1293.2,513.5 1293.4,510.1 1293.6,504.0 1293.8,498.0 1294.0,488.3 1294.2,483.5 1294.4,483.9 1294.6,484.0 1294.8,482.4 1295.0,479.2 1295.2,476.8 1295.4,476.0 1295.6,480.4 1295.8,486.5 1296.0,488.1 1296.2,492.8 1296.4,496.0 1296.6,506.6 1296.8,509.1 1297.0,520.4 1297.2,526.9 1297.4,532.0 1297.6,528.5 1297.8,525.4 1298.0,521.0 1298.2,518.9 1298.4,513.4 1298.6,504.0 1298.8,512.0 1299.0,517.6 1299.2,529.0 1299.4,536.0 1299.6,526.2 1299.8,527.4 1300.0,525.5 1300.2,525.5 1300.4,525.5 1300.6,526.0 1300.8,536.3 1301.0,550.0 1301.2,556.3 1301.4,570.0 1301.6,593.0 1301.8,590.7 1302.0,583.5 1302.2,580.9 1302.4,579.8 1302.6,578.3 1302.8,572.2 1303.0,566.0 1303.2,564.5 1303.4,564.5 1303.6,564.5 1303.8,564.5 1304.0,564.5 1304.2,565.0 1304.4,570.3 1304.6,572.1 1304.8,583.2 1305.0,590.0 1305.2,600.0 1305.4,607.0 1305.6,614.0 1305.8,609.8 1306.0,600.7 1306.2,596.4 1306.4,592.2 1306.6,584.9 1306.8,573.9 1307.0,569.0 1307.2,576.4 1307.4,576.9 1307.6,576.0 1307.8,582.5 1308.0,586.0 1308.2,588.1 1308.4,595.8 1308.6,598.9 1308.8,604.2 1309.0,607.0 1309.2,602.8 1309.4,601.5 1309.6,596.9 1309.8,589.6 1310.0,586.0 1310.2,584.3 1310.4,582.3 1310.6,583.6 1310.8,581.1 1311.0,580.7 1311.2,576.0 1311.4,569.1 1311.6,565.0 1311.8,564.6 1312.0,569.5 1312.2,570.7 1312.4,574.1 1312.6,574.0 1312.8,578.6 1313.0,586.7 1313.2,591.1 1313.4,594.0 1313.6,597.4 1313.8,602.6 1314.0,604.6 1314.2,603.6 1314.4,601.5 1314.6,600.0 1314.8,605.7 1315.0,608.0 1315.2,610.3 1315.4,614.4 1315.6,616.2 1315.8,618.5 1316.0,618.0 1316.2,613.5 1316.4,613.7 1316.6,613.5 1316.8,613.7 1317.0,613.5 1317.2,613.5 1317.4,614.0 1317.6,613.5 1317.8,615.3 1318.0,620.8 1318.2,621.9 1318.4,624.0 1318.6,616.2 1318.8,616.8 1319.0,613.8 1319.2,615.9 1319.4,614.0 1319.6,613.5 1319.8,615.1 1320.0,614.9 1320.2,613.8 1320.4,618.7 1320.6,622.0 1320.8,618.4 1321.0,616.7 1321.2,615.1 1321.4,612.8 1321.6,609.0 1321.8,608.4 1322.0,608.8 1322.2,609.5 1322.4,609.5 1322.6,607.5 1322.8,606.5 1323.0,607.0 1323.2,607.8 1323.4,611.3 1323.6,617.1 1323.8,621.2 1324.0,624.0 1323.8,628.8 1323.6,632.3 1323.4,640.0 1323.6,639.3 1323.8,634.9 1324.0,631.9 1324.2,633.0 1324.4,634.0 1324.6,632.9 1324.8,629.6 1325.0,629.5 1325.2,627.5 1325.4,626.0 1325.6,630.4 1325.8,632.7 1326.0,638.0 1326.2,634.8 1326.4,634.5 1326.6,634.5 1326.8,634.5 1327.0,636.7 1327.2,638.2 1327.4,635.0"/>
<g stroke="#333333" stroke-width="2.96" fill="none">
<line x1="109.6" x2="117.2" y1="30.0" y2="30.0"/>
<line x1="109.6" x2="117.2" y1="314.6" y2="314.6"/>
<line x1="109.6" x2="117.2" y1="599.3" y2="599.3"/>
<line x1="109.6" x2="117.2" y1="883.9" y2="883.9"/>
<line x1="174.9" x2="174.9" y1="1107.8" y2="1115.4"/>
<line x1="346.6" x2="346.6" y1="1107.8" y2="1115.4"/>
<line x1="519.0" x2="519.0" y1="1107.8" y2="1115.4"/>
<line x1="691.2" x2="691.2" y1="1107.8" y2="1115.4"/>
<line x1="863.4" x2="863.4" y1="1107.8" y2="1115.4"/>
<line x1="1035.8" x2="1035.8" y1="1107.8" y2="1115.4"/>
<line x1="1208.1" x2="1208.1" y1="1107.8" y2="1115.4"/>
<line x1="1327.3" x2="1327.3" y1="1107.8" y2="1115.4"/>
</g>
<text class="tk" x="102.5" y="39.0" text-anchor="end">10.0</text>
<text class="tk" x="102.5" y="323.6" text-anchor="end">7.5</text>
<text class="tk" x="102.5" y="608.3" text-anchor="end">5.0</text>
<text class="tk" x="102.5" y="892.9" text-anchor="end">2.5</text>
<text class="tk" x="174.9" y="1140" text-anchor="middle">1990-01-02</text>
<text class="tk" x="346.6" y="1140" text-anchor="middle">1994-09-15</text>
<text class="tk" x="519.0" y="1140" text-anchor="middle">1998-12-03</text>
<text class="tk" x="691.2" y="1140" text-anchor="middle">2002-03-15</text>
<text class="tk" x="863.4" y="1140" text-anchor="middle">2006-06-22</text>
<text class="tk" x="1035.8" y="1140" text-anchor="middle">2009-08-17</text>
<text class="tk" x="1208.1" y="1140" text-anchor="middle">2013-06-10</text>
<text class="tk" x="1327.3" y="1140" text-anchor="middle">2016-12-30</text>
<text class="tt" x="751.7" y="1177.8" text-anchor="middle">warped date scale</text>
<text class="tt" transform="translate(38.2,562.1) rotate(-90)" text-anchor="middle">UMD cumulative return</text>
</svg>
</body></html>
